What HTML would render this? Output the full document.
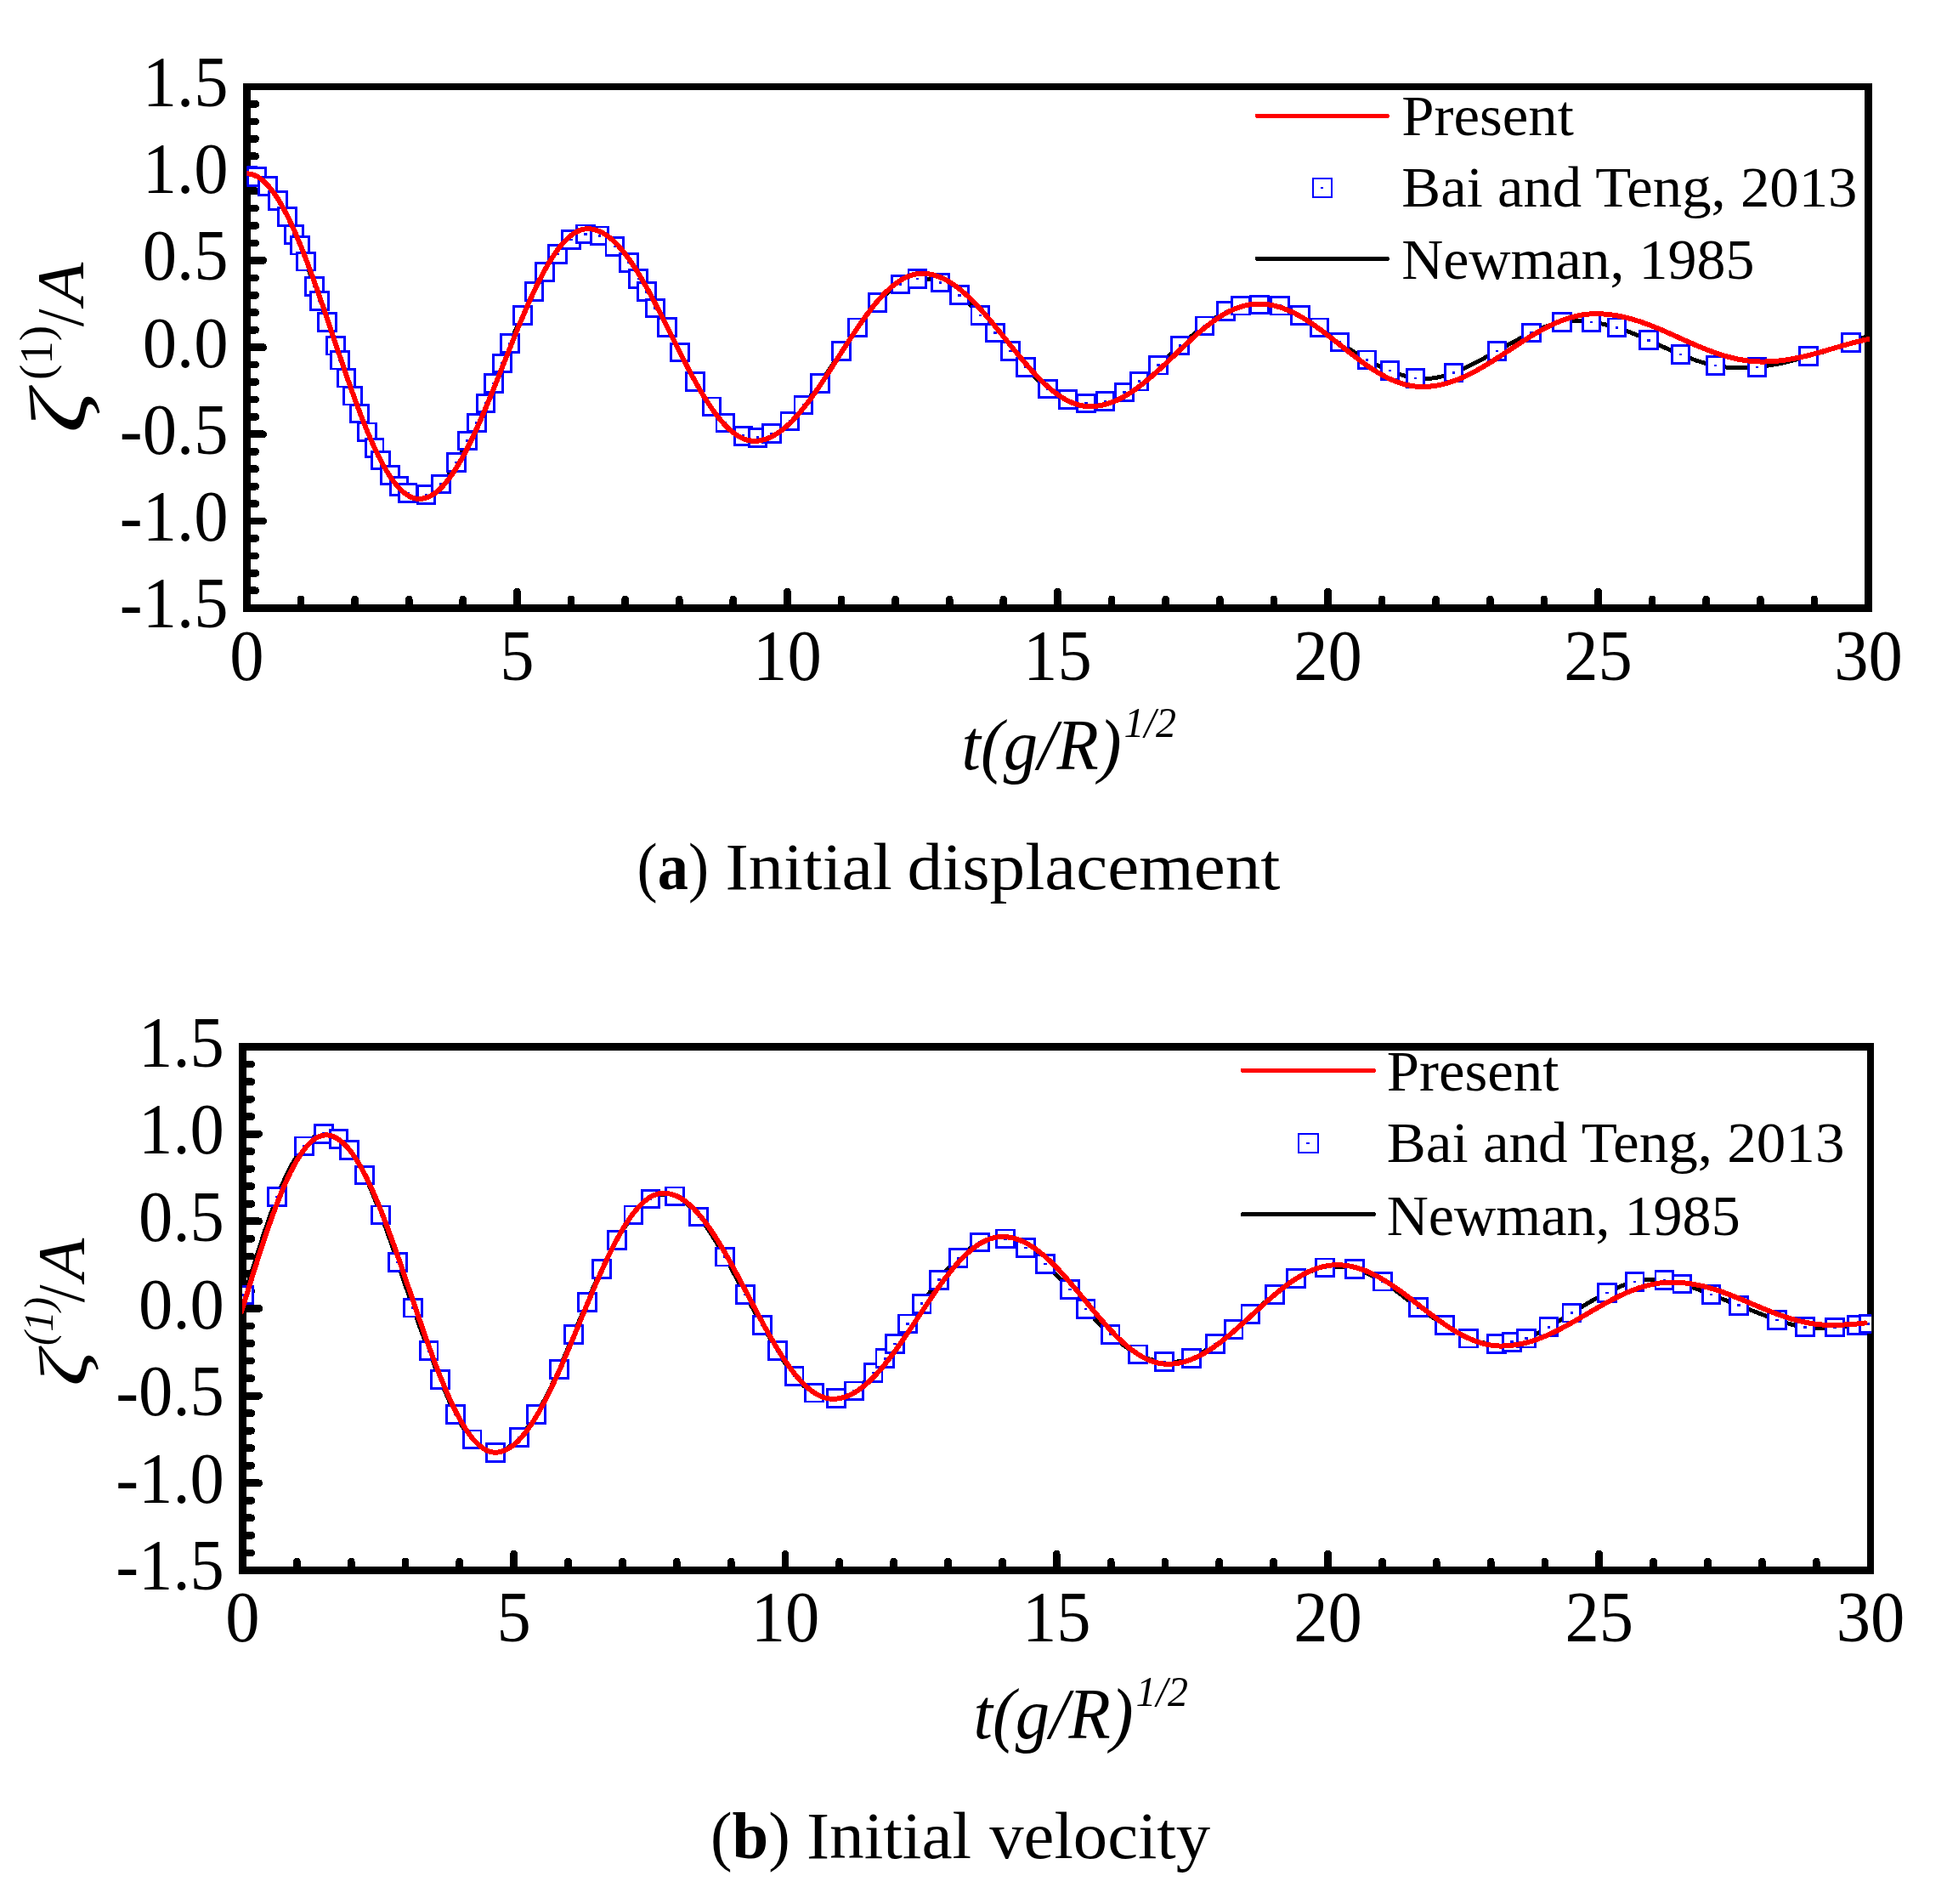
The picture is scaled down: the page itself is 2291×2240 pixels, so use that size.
<!DOCTYPE html>
<html><head><meta charset="utf-8"><title>Figure</title>
<style>html,body{margin:0;padding:0;background:#fff}svg{display:block}text{font-family:"Liberation Serif",serif}.tk{font-size:84px}.lg{font-size:68.3px}.it{font-style:italic}.cap{font-size:78px}</style></head><body>
<svg width="2291" height="2240" viewBox="0 0 2291 2240" shape-rendering="crispEdges">
<rect width="2291" height="2240" fill="#fff"/>
<g>
<path d="M285.90 97.95H2203.00V719.70H285.90Z M294.90 106.05V710.80H2194.00V106.05Z" fill="#000" fill-rule="evenodd"/>
<path d="M354.0 715.2 V704.9 M417.6 715.2 V704.9 M481.2 715.2 V704.9 M544.8 715.2 V704.9 M608.4 715.2 V696.0 M672.0 715.2 V704.9 M735.6 715.2 V704.9 M799.2 715.2 V704.9 M862.8 715.2 V704.9 M926.4 715.2 V696.0 M990.0 715.2 V704.9 M1053.6 715.2 V704.9 M1117.2 715.2 V704.9 M1180.8 715.2 V704.9 M1244.4 715.2 V696.0 M1308.1 715.2 V704.9 M1371.7 715.2 V704.9 M1435.3 715.2 V704.9 M1498.9 715.2 V704.9 M1562.5 715.2 V696.0 M1626.1 715.2 V704.9 M1689.7 715.2 V704.9 M1753.3 715.2 V704.9 M1816.9 715.2 V704.9 M1880.5 715.2 V696.0 M1944.1 715.2 V704.9 M2007.7 715.2 V704.9 M2071.3 715.2 V704.9 M2134.9 715.2 V704.9 M290.4 694.8 H300.8 M290.4 674.4 H300.8 M290.4 653.9 H300.8 M290.4 633.5 H300.8 M290.4 613.0 H309.7 M290.4 592.6 H300.8 M290.4 572.2 H300.8 M290.4 551.7 H300.8 M290.4 531.3 H300.8 M290.4 510.8 H309.7 M290.4 490.4 H300.8 M290.4 469.9 H300.8 M290.4 449.5 H300.8 M290.4 429.1 H300.8 M290.4 408.6 H309.7 M290.4 388.2 H300.8 M290.4 367.7 H300.8 M290.4 347.3 H300.8 M290.4 326.9 H300.8 M290.4 306.4 H309.7 M290.4 286.0 H300.8 M290.4 265.5 H300.8 M290.4 245.1 H300.8 M290.4 224.7 H300.8 M290.4 204.2 H309.7 M290.4 183.8 H300.8 M290.4 163.3 H300.8 M290.4 142.9 H300.8 M290.4 122.4 H300.8" fill="none" stroke="#000" stroke-width="8.7" stroke-linecap="round"/>
<clipPath id="clipA"><rect x="290.4" y="102.0" width="1909.6" height="613.2"/></clipPath>
<g clip-path="url(#clipA)">
<path d="M289.0 204.3 L291.0 204.2 L293.0 204.4 L295.0 204.8 L297.0 205.5 L299.0 206.3 L301.0 207.3 L303.0 208.4 L305.0 209.7 L307.0 211.1 L309.0 212.8 L311.0 214.6 L313.0 216.7 L315.0 219.0 L317.0 221.6 L319.0 224.4 L321.0 227.3 L323.0 230.2 L325.0 233.2 L327.0 236.1 L329.0 238.9 L331.0 241.8 L333.0 245.0 L335.0 248.6 L337.0 252.7 L339.0 257.6 L341.0 263.0 L343.0 268.5 L345.0 273.7 L347.0 278.1 L349.0 281.7 L351.0 285.2 L353.0 289.1 L355.0 293.8 L357.0 299.1 L359.0 304.8 L361.0 310.6 L363.0 316.4 L365.0 322.3 L367.0 328.1 L369.0 334.0 L371.0 340.0 L373.0 345.9 L375.0 351.7 L377.0 357.4 L379.0 362.8 L381.0 368.1 L383.0 373.4 L385.0 378.5 L387.0 383.7 L389.0 389.1 L391.0 394.6 L393.0 400.4 L395.0 406.7 L397.0 413.4 L399.0 420.2 L401.0 426.5 L403.0 432.2 L405.0 437.6 L407.0 443.0 L409.0 448.7 L411.0 454.6 L413.0 460.5 L415.0 466.3 L417.0 471.7 L419.0 476.9 L421.0 482.0 L423.0 487.0 L425.0 492.0 L427.0 497.0 L429.0 501.8 L431.0 506.6 L433.0 511.1 L435.0 515.4 L437.0 519.6 L439.0 523.7 L441.0 527.8 L443.0 531.9 L445.0 535.9 L447.0 539.8 L449.0 543.5 L451.0 546.9 L453.0 550.2 L455.0 553.3 L457.0 556.2 L459.0 559.0 L461.0 561.7 L463.0 564.3 L465.0 566.7 L467.0 569.0 L469.0 571.2 L471.0 573.2 L473.0 575.0 L475.0 576.6 L477.0 578.1 L479.0 579.4 L481.0 580.5 L483.0 581.5 L485.0 582.3 L487.0 582.9 L489.0 583.3 L491.0 583.6 L493.0 583.7 L495.0 583.6 L497.0 583.4 L499.0 583.0 L501.0 582.4 L503.0 581.6 L505.0 580.7 L507.0 579.6 L509.0 578.3 L511.0 576.9 L513.0 575.3 L515.0 573.6 L517.0 571.7 L519.0 569.6 L521.0 567.4 L523.0 565.0 L525.0 562.5 L527.0 559.8 L529.0 557.0 L531.0 554.0 L533.0 550.8 L535.0 547.5 L537.0 544.0 L539.0 540.3 L541.0 536.5 L543.0 532.6 L545.0 528.6 L547.0 524.6 L549.0 520.7 L551.0 516.7 L553.0 512.9 L555.0 509.1 L557.0 505.3 L559.0 501.4 L561.0 497.5 L563.0 493.5 L565.0 489.3 L567.0 485.1 L569.0 480.6 L571.0 475.9 L573.0 471.1 L575.0 466.0 L577.0 460.9 L579.0 455.9 L581.0 450.9 L583.0 446.1 L585.0 441.5 L587.0 436.9 L589.0 432.2 L591.0 427.4 L593.0 422.3 L595.0 417.1 L597.0 411.9 L599.0 406.7 L601.0 401.7 L603.0 396.9 L605.0 392.2 L607.0 387.7 L609.0 383.3 L611.0 379.0 L613.0 374.8 L615.0 370.6 L617.0 366.5 L619.0 362.4 L621.0 358.3 L623.0 354.3 L625.0 350.3 L627.0 346.3 L629.0 342.3 L631.0 338.3 L633.0 334.4 L635.0 330.5 L637.0 326.8 L639.0 323.2 L641.0 319.7 L643.0 316.5 L645.0 313.4 L647.0 310.5 L649.0 307.7 L651.0 305.0 L653.0 302.3 L655.0 299.8 L657.0 297.3 L659.0 294.8 L661.0 292.4 L663.0 290.1 L665.0 287.9 L667.0 285.9 L669.0 284.0 L671.0 282.3 L673.0 280.9 L675.0 279.6 L677.0 278.6 L679.0 277.7 L681.0 277.0 L683.0 276.4 L685.0 275.9 L687.0 275.6 L689.0 275.4 L691.0 275.2 L693.0 275.1 L695.0 275.2 L697.0 275.3 L699.0 275.6 L701.0 276.0 L703.0 276.5 L705.0 277.2 L707.0 278.1 L709.0 279.1 L711.0 280.2 L713.0 281.5 L715.0 282.9 L717.0 284.5 L719.0 286.1 L721.0 287.8 L723.0 289.6 L725.0 291.5 L727.0 293.5 L729.0 295.5 L731.0 297.7 L733.0 300.0 L735.0 302.5 L737.0 305.1 L739.0 308.0 L741.0 311.0 L743.0 314.2 L745.0 317.5 L747.0 320.9 L749.0 324.2 L751.0 327.5 L753.0 330.7 L755.0 333.7 L757.0 336.8 L759.0 340.1 L761.0 343.5 L763.0 347.2 L765.0 351.0 L767.0 355.0 L769.0 358.9 L771.0 362.6 L773.0 366.1 L775.0 369.4 L777.0 372.6 L779.0 375.7 L781.0 378.8 L783.0 382.0 L785.0 385.3 L787.0 388.8 L789.0 392.6 L791.0 396.4 L793.0 400.4 L795.0 404.4 L797.0 408.5 L799.0 412.7 L801.0 416.7 L803.0 420.8 L805.0 424.8 L807.0 428.7 L809.0 432.6 L811.0 436.4 L813.0 440.1 L815.0 443.7 L817.0 447.2 L819.0 450.7 L821.0 454.0 L823.0 457.2 L825.0 460.3 L827.0 463.4 L829.0 466.4 L831.0 469.3 L833.0 472.1 L835.0 474.9 L837.0 477.6 L839.0 480.3 L841.0 482.9 L843.0 485.5 L845.0 488.0 L847.0 490.4 L849.0 492.8 L851.0 495.0 L853.0 497.2 L855.0 499.2 L857.0 501.1 L859.0 502.9 L861.0 504.6 L863.0 506.2 L865.0 507.6 L867.0 508.9 L869.0 510.1 L871.0 511.2 L873.0 512.1 L875.0 512.9 L877.0 513.5 L879.0 514.1 L881.0 514.5 L883.0 514.8 L885.0 514.9 L887.0 515.0 L889.0 514.9 L891.0 514.8 L893.0 514.5 L895.0 514.1 L897.0 513.7 L899.0 513.2 L901.0 512.6 L903.0 511.9 L905.0 511.1 L907.0 510.3 L909.0 509.4 L911.0 508.5 L913.0 507.5 L915.0 506.4 L917.0 505.2 L919.0 504.0 L921.0 502.6 L923.0 501.1 L925.0 499.5 L927.0 497.8 L929.0 495.9 L931.0 493.9 L933.0 491.7 L935.0 489.4 L937.0 487.1 L939.0 484.6 L941.0 482.1 L943.0 479.6 L945.0 477.0 L947.0 474.4 L949.0 471.9 L951.0 469.3 L953.0 466.7 L955.0 464.1 L957.0 461.5 L959.0 458.8 L961.0 456.2 L963.0 453.4 L965.0 450.7 L967.0 447.8 L969.0 445.0 L971.0 442.1 L973.0 439.1 L975.0 436.2 L977.0 433.2 L979.0 430.1 L981.0 427.1 L983.0 424.1 L985.0 421.0 L987.0 417.9 L989.0 414.9 L991.0 411.8 L993.0 408.8 L995.0 405.8 L997.0 402.8 L999.0 399.8 L1001.0 396.8 L1003.0 393.9 L1005.0 391.0 L1007.0 388.1 L1009.0 385.3 L1011.0 382.5 L1013.0 379.7 L1015.0 377.0 L1017.0 374.4 L1019.0 371.8 L1021.0 369.2 L1023.0 366.8 L1025.0 364.3 L1027.0 362.0 L1029.0 359.7 L1031.0 357.5 L1033.0 355.4 L1035.0 353.3 L1037.0 351.4 L1039.0 349.5 L1041.0 347.6 L1043.0 345.9 L1045.0 344.2 L1047.0 342.7 L1049.0 341.2 L1051.0 339.7 L1053.0 338.4 L1055.0 337.1 L1057.0 335.9 L1059.0 334.8 L1061.0 333.7 L1063.0 332.8 L1065.0 331.9 L1067.0 331.0 L1069.0 330.3 L1071.0 329.7 L1073.0 329.1 L1075.0 328.6 L1077.0 328.2 L1079.0 327.9 L1081.0 327.7 L1083.0 327.6 L1085.0 327.6 L1087.0 327.6 L1089.0 327.8 L1091.0 328.0 L1093.0 328.3 L1095.0 328.7 L1097.0 329.2 L1099.0 329.7 L1101.0 330.4 L1103.0 331.1 L1105.0 331.9 L1107.0 332.8 L1109.0 333.7 L1111.0 334.8 L1113.0 335.9 L1115.0 337.1 L1117.0 338.3 L1119.0 339.6 L1121.0 341.0 L1123.0 342.4 L1125.0 343.9 L1127.0 345.5 L1129.0 347.1 L1131.0 348.8 L1133.0 350.5 L1135.0 352.3 L1137.0 354.1 L1139.0 356.0 L1141.0 358.0 L1143.0 359.9 L1145.0 362.0 L1147.0 364.1 L1149.0 366.2 L1151.0 368.4 L1153.0 370.6 L1155.0 372.8 L1157.0 375.1 L1159.0 377.4 L1161.0 379.8 L1163.0 382.2 L1165.0 384.6 L1167.0 387.0 L1169.0 389.4 L1171.0 391.8 L1173.0 394.3 L1175.0 396.7 L1177.0 399.1 L1179.0 401.5 L1181.0 403.9 L1183.0 406.3 L1185.0 408.6 L1187.0 410.9 L1189.0 413.1 L1191.0 415.3 L1193.0 417.5 L1195.0 419.6 L1197.0 421.7 L1199.0 423.7 L1201.0 425.8 L1203.0 427.9 L1205.0 429.9 L1207.0 432.0 L1209.0 434.1 L1211.0 436.2 L1213.0 438.4 L1215.0 440.5 L1217.0 442.6 L1219.0 444.6 L1221.0 446.7 L1223.0 448.7 L1225.0 450.6 L1227.0 452.5 L1229.0 454.3 L1231.0 456.0 L1233.0 457.6 L1235.0 459.1 L1237.0 460.5 L1239.0 461.8 L1241.0 463.1 L1243.0 464.2 L1245.0 465.3 L1247.0 466.3 L1249.0 467.2 L1251.0 468.0 L1253.0 468.9 L1255.0 469.6 L1257.0 470.3 L1259.0 471.0 L1261.0 471.6 L1263.0 472.1 L1265.0 472.6 L1267.0 473.1 L1269.0 473.5 L1271.0 473.9 L1273.0 474.2 L1275.0 474.4 L1277.0 474.6 L1279.0 474.7 L1281.0 474.7 L1283.0 474.7 L1285.0 474.6 L1287.0 474.5 L1289.0 474.3 L1291.0 474.0 L1293.0 473.7 L1295.0 473.3 L1297.0 472.8 L1299.0 472.3 L1301.0 471.7 L1303.0 471.1 L1305.0 470.4 L1307.0 469.6 L1309.0 468.8 L1311.0 468.0 L1313.0 467.0 L1315.0 466.0 L1317.0 465.0 L1319.0 463.8 L1321.0 462.7 L1323.0 461.4 L1325.0 460.1 L1327.0 458.8 L1329.0 457.4 L1331.0 455.9 L1333.0 454.5 L1335.0 452.9 L1337.0 451.4 L1339.0 449.8 L1341.0 448.2 L1343.0 446.6 L1345.0 445.0 L1347.0 443.3 L1349.0 441.7 L1351.0 440.0 L1353.0 438.3 L1355.0 436.6 L1357.0 434.9 L1359.0 433.1 L1361.0 431.4 L1363.0 429.6 L1365.0 427.8 L1367.0 426.0 L1369.0 424.2 L1371.0 422.4 L1373.0 420.5 L1375.0 418.7 L1377.0 416.9 L1379.0 415.1 L1381.0 413.3 L1383.0 411.5 L1385.0 409.7 L1387.0 407.9 L1389.0 406.2 L1391.0 404.4 L1393.0 402.8 L1395.0 401.1 L1397.0 399.4 L1399.0 397.8 L1401.0 396.2 L1403.0 394.6 L1405.0 393.0 L1407.0 391.4 L1409.0 389.9 L1411.0 388.3 L1413.0 386.8 L1415.0 385.2 L1417.0 383.7 L1419.0 382.2 L1421.0 380.7 L1423.0 379.2 L1425.0 377.7 L1427.0 376.2 L1429.0 374.8 L1431.0 373.4 L1433.0 372.0 L1435.0 370.7 L1437.0 369.5 L1439.0 368.2 L1441.0 367.1 L1443.0 366.0 L1445.0 365.0 L1447.0 364.0 L1449.0 363.1 L1451.0 362.3 L1453.0 361.6 L1455.0 360.9 L1457.0 360.3 L1459.0 359.8 L1461.0 359.5 L1463.0 359.2 L1465.0 358.9 L1467.0 358.8 L1469.0 358.6 L1471.0 358.6 L1473.0 358.5 L1475.0 358.5 L1477.0 358.5 L1479.0 358.5 L1481.0 358.5 L1483.0 358.5 L1485.0 358.4 L1487.0 358.4 L1489.0 358.3 L1491.0 358.3 L1493.0 358.3 L1495.0 358.3 L1497.0 358.4 L1499.0 358.6 L1501.0 358.8 L1503.0 359.1 L1505.0 359.4 L1507.0 359.9 L1509.0 360.5 L1511.0 361.2 L1513.0 362.0 L1515.0 362.9 L1517.0 363.8 L1519.0 364.8 L1521.0 365.9 L1523.0 367.0 L1525.0 368.1 L1527.0 369.3 L1529.0 370.5 L1531.0 371.7 L1533.0 372.9 L1535.0 374.1 L1537.0 375.3 L1539.0 376.6 L1541.0 377.8 L1543.0 379.1 L1545.0 380.4 L1547.0 381.7 L1549.0 383.0 L1551.0 384.3 L1553.0 385.7 L1555.0 387.0 L1557.0 388.4 L1559.0 389.9 L1561.0 391.3 L1563.0 392.7 L1565.0 394.2 L1567.0 395.6 L1569.0 397.1 L1571.0 398.5 L1573.0 400.0 L1575.0 401.4 L1577.0 402.9 L1579.0 404.3 L1581.0 405.7 L1583.0 407.1 L1585.0 408.5 L1587.0 409.9 L1589.0 411.3 L1591.0 412.6 L1593.0 414.0 L1595.0 415.3 L1597.0 416.6 L1599.0 417.8 L1601.0 419.1 L1603.0 420.3 L1605.0 421.5 L1607.0 422.6 L1609.0 423.7 L1611.0 424.8 L1613.0 425.9 L1615.0 426.9 L1617.0 427.9 L1619.0 428.8 L1621.0 429.8 L1623.0 430.7 L1625.0 431.6 L1627.0 432.5 L1629.0 433.3 L1631.0 434.2 L1633.0 435.0 L1635.0 435.8 L1637.0 436.6 L1639.0 437.4 L1641.0 438.1 L1643.0 438.9 L1645.0 439.6 L1647.0 440.3 L1649.0 441.0 L1651.0 441.6 L1653.0 442.2 L1655.0 442.7 L1657.0 443.3 L1659.0 443.7 L1661.0 444.1 L1663.0 444.5 L1665.0 444.8 L1667.0 445.1 L1669.0 445.3 L1671.0 445.4 L1673.0 445.5 L1675.0 445.6 L1677.0 445.6 L1679.0 445.5 L1681.0 445.4 L1683.0 445.2 L1685.0 445.0 L1687.0 444.7 L1689.0 444.4 L1691.0 444.1 L1693.0 443.7 L1695.0 443.2 L1697.0 442.8 L1699.0 442.2 L1701.0 441.7 L1703.0 441.1 L1705.0 440.5 L1707.0 439.8 L1709.0 439.1 L1711.0 438.4 L1713.0 437.6 L1715.0 436.8 L1717.0 436.0 L1719.0 435.1 L1721.0 434.2 L1723.0 433.3 L1725.0 432.4 L1727.0 431.4 L1729.0 430.4 L1731.0 429.4 L1733.0 428.4 L1735.0 427.4 L1737.0 426.4 L1739.0 425.3 L1741.0 424.2 L1743.0 423.1 L1745.0 422.1 L1747.0 421.0 L1749.0 419.8 L1751.0 418.7 L1753.0 417.6 L1755.0 416.5 L1757.0 415.4 L1759.0 414.2 L1761.0 413.1 L1763.0 412.0 L1765.0 410.9 L1767.0 409.8 L1769.0 408.7 L1771.0 407.6 L1773.0 406.5 L1775.0 405.4 L1777.0 404.3 L1779.0 403.2 L1781.0 402.2 L1783.0 401.1 L1785.0 400.1 L1787.0 399.0 L1789.0 398.0 L1791.0 397.0 L1793.0 396.0 L1795.0 395.0 L1797.0 394.0 L1799.0 393.0 L1801.0 392.0 L1803.0 391.1 L1805.0 390.1 L1807.0 389.2 L1809.0 388.3 L1811.0 387.5 L1813.0 386.6 L1815.0 385.8 L1817.0 385.0 L1819.0 384.2 L1821.0 383.5 L1823.0 382.8 L1825.0 382.1 L1827.0 381.5 L1829.0 380.9 L1831.0 380.3 L1833.0 379.8 L1835.0 379.4 L1837.0 379.0 L1839.0 378.7 L1841.0 378.4 L1843.0 378.1 L1845.0 377.9 L1847.0 377.8 L1849.0 377.7 L1851.0 377.6 L1853.0 377.6 L1855.0 377.6 L1857.0 377.6 L1859.0 377.7 L1861.0 377.8 L1863.0 378.0 L1865.0 378.1 L1867.0 378.3 L1869.0 378.6 L1871.0 378.8 L1873.0 379.1 L1875.0 379.3 L1877.0 379.6 L1879.0 380.0 L1881.0 380.3 L1883.0 380.7 L1885.0 381.0 L1887.0 381.4 L1889.0 381.9 L1891.0 382.3 L1893.0 382.8 L1895.0 383.3 L1897.0 383.8 L1899.0 384.3 L1901.0 384.9 L1903.0 385.5 L1905.0 386.2 L1907.0 386.8 L1909.0 387.5 L1911.0 388.2 L1913.0 388.9 L1915.0 389.7 L1917.0 390.5 L1919.0 391.2 L1921.0 392.1 L1923.0 392.9 L1925.0 393.7 L1927.0 394.6 L1929.0 395.4 L1931.0 396.3 L1933.0 397.2 L1935.0 398.1 L1937.0 399.0 L1939.0 399.9 L1941.0 400.8 L1943.0 401.7 L1945.0 402.6 L1947.0 403.5 L1949.0 404.5 L1951.0 405.4 L1953.0 406.3 L1955.0 407.2 L1957.0 408.1 L1959.0 409.0 L1961.0 409.9 L1963.0 410.8 L1965.0 411.7 L1967.0 412.6 L1969.0 413.5 L1971.0 414.3 L1973.0 415.2 L1975.0 416.0 L1977.0 416.9 L1979.0 417.7 L1981.0 418.5 L1983.0 419.3 L1985.0 420.1 L1987.0 420.8 L1989.0 421.6 L1991.0 422.3 L1993.0 423.0 L1995.0 423.7 L1997.0 424.4 L1999.0 425.0 L2001.0 425.7 L2003.0 426.3 L2005.0 426.9 L2007.0 427.4 L2009.0 427.9 L2011.0 428.5 L2013.0 428.9 L2015.0 429.4 L2017.0 429.8 L2019.0 430.2 L2021.0 430.6 L2023.0 430.9 L2025.0 431.2 L2027.0 431.5 L2029.0 431.8 L2031.0 432.0 L2033.0 432.2 L2035.0 432.3 L2037.0 432.5 L2039.0 432.6 L2041.0 432.7 L2043.0 432.8 L2045.0 432.8 L2047.0 432.8 L2049.0 432.8 L2051.0 432.8 L2053.0 432.8 L2055.0 432.7 L2057.0 432.6 L2059.0 432.5 L2061.0 432.4 L2063.0 432.2 L2065.0 432.0 L2067.0 431.8 L2069.0 431.6 L2071.0 431.4 L2073.0 431.2 L2075.0 430.9 L2077.0 430.6 L2079.0 430.4 L2081.0 430.0 L2083.0 429.7 L2085.0 429.4 L2087.0 429.0 L2089.0 428.7 L2091.0 428.3 L2093.0 427.9 L2095.0 427.5 L2097.0 427.1 L2099.0 426.6 L2101.0 426.2 L2103.0 425.7 L2105.0 425.3 L2107.0 424.8 L2109.0 424.3 L2111.0 423.8 L2113.0 423.3 L2115.0 422.8 L2117.0 422.2 L2119.0 421.7 L2121.0 421.2 L2123.0 420.6 L2125.0 420.1 L2127.0 419.5 L2129.0 418.9 L2131.0 418.3 L2133.0 417.7 L2135.0 417.2 L2137.0 416.6 L2139.0 416.0 L2141.0 415.3 L2143.0 414.7 L2145.0 414.1 L2147.0 413.5 L2149.0 412.8 L2151.0 412.2 L2153.0 411.5 L2155.0 410.9 L2157.0 410.2 L2159.0 409.5 L2161.0 408.9 L2163.0 408.2 L2165.0 407.5 L2167.0 406.8 L2169.0 406.1 L2171.0 405.4 L2173.0 404.7 L2175.0 403.9 L2177.0 403.2 L2179.0 402.5 L2181.0 401.7 L2183.0 401.0 L2185.0 400.2 L2187.0 399.4 L2189.0 398.7 L2191.0 397.9 L2193.0 397.1 L2195.0 396.4 L2197.0 395.6 L2199.0 394.8 L2201.0 394.0 L2203.0 393.3" fill="none" stroke="#000" stroke-width="5.0" stroke-linejoin="round"/>
<rect x="291.8" y="196.0" width="9.5" height="20.7" fill="#fff" stroke="#00f" stroke-width="2.9"/><rect x="289.2" y="205.0" width="3.6" height="2.6" fill="#00f"/>
<rect x="291.8" y="197.5" width="20.5" height="20.7" fill="#fff" stroke="#00f" stroke-width="2.9"/><rect x="300.2" y="206.5" width="3.6" height="2.6" fill="#00f"/>
<rect x="304.4" y="208.5" width="20.7" height="20.7" fill="#fff" stroke="#00f" stroke-width="2.9"/><rect x="313.0" y="217.5" width="3.6" height="2.6" fill="#00f"/>
<rect x="316.4" y="225.5" width="20.7" height="20.7" fill="#fff" stroke="#00f" stroke-width="2.9"/><rect x="325.0" y="234.5" width="3.6" height="2.6" fill="#00f"/>
<rect x="327.5" y="244.5" width="20.7" height="20.7" fill="#fff" stroke="#00f" stroke-width="2.9"/><rect x="336.1" y="253.5" width="3.6" height="2.6" fill="#00f"/>
<rect x="335.5" y="265.4" width="20.7" height="20.7" fill="#fff" stroke="#00f" stroke-width="2.9"/><rect x="344.1" y="274.5" width="3.6" height="2.6" fill="#00f"/>
<rect x="342.4" y="278.3" width="20.7" height="20.7" fill="#fff" stroke="#00f" stroke-width="2.9"/><rect x="351.0" y="287.4" width="3.6" height="2.6" fill="#00f"/>
<rect x="349.6" y="297.3" width="20.7" height="20.7" fill="#fff" stroke="#00f" stroke-width="2.9"/><rect x="358.2" y="306.4" width="3.6" height="2.6" fill="#00f"/>
<rect x="359.6" y="326.6" width="20.7" height="20.7" fill="#fff" stroke="#00f" stroke-width="2.9"/><rect x="368.2" y="335.7" width="3.6" height="2.6" fill="#00f"/>
<rect x="365.4" y="343.6" width="20.7" height="20.7" fill="#fff" stroke="#00f" stroke-width="2.9"/><rect x="374.0" y="352.7" width="3.6" height="2.6" fill="#00f"/>
<rect x="374.8" y="368.4" width="20.7" height="20.7" fill="#fff" stroke="#00f" stroke-width="2.9"/><rect x="383.3" y="377.5" width="3.6" height="2.6" fill="#00f"/>
<rect x="384.6" y="396.3" width="20.7" height="20.7" fill="#fff" stroke="#00f" stroke-width="2.9"/><rect x="393.2" y="405.4" width="3.6" height="2.6" fill="#00f"/>
<rect x="389.8" y="413.3" width="20.7" height="20.7" fill="#fff" stroke="#00f" stroke-width="2.9"/><rect x="398.3" y="422.4" width="3.6" height="2.6" fill="#00f"/>
<rect x="397.2" y="434.3" width="20.7" height="20.7" fill="#fff" stroke="#00f" stroke-width="2.9"/><rect x="405.8" y="443.4" width="3.6" height="2.6" fill="#00f"/>
<rect x="404.4" y="455.3" width="20.7" height="20.7" fill="#fff" stroke="#00f" stroke-width="2.9"/><rect x="413.0" y="464.4" width="3.6" height="2.6" fill="#00f"/>
<rect x="412.4" y="476.1" width="20.7" height="20.7" fill="#fff" stroke="#00f" stroke-width="2.9"/><rect x="421.0" y="485.2" width="3.6" height="2.6" fill="#00f"/>
<rect x="421.4" y="498.0" width="20.7" height="20.7" fill="#fff" stroke="#00f" stroke-width="2.9"/><rect x="430.0" y="507.1" width="3.6" height="2.6" fill="#00f"/>
<rect x="430.3" y="516.9" width="20.7" height="20.7" fill="#fff" stroke="#00f" stroke-width="2.9"/><rect x="438.9" y="525.9" width="3.6" height="2.6" fill="#00f"/>
<rect x="437.5" y="531.1" width="20.7" height="20.7" fill="#fff" stroke="#00f" stroke-width="2.9"/><rect x="446.1" y="540.2" width="3.6" height="2.6" fill="#00f"/>
<rect x="448.4" y="548.4" width="20.7" height="20.7" fill="#fff" stroke="#00f" stroke-width="2.9"/><rect x="457.0" y="557.4" width="3.6" height="2.6" fill="#00f"/>
<rect x="459.2" y="561.4" width="20.7" height="20.7" fill="#fff" stroke="#00f" stroke-width="2.9"/><rect x="467.8" y="570.5" width="3.6" height="2.6" fill="#00f"/>
<rect x="469.3" y="569.4" width="20.7" height="20.7" fill="#fff" stroke="#00f" stroke-width="2.9"/><rect x="477.9" y="578.5" width="3.6" height="2.6" fill="#00f"/>
<rect x="491.1" y="571.9" width="20.7" height="20.7" fill="#fff" stroke="#00f" stroke-width="2.9"/><rect x="499.7" y="580.9" width="3.6" height="2.6" fill="#00f"/>
<rect x="508.6" y="559.2" width="20.7" height="20.7" fill="#fff" stroke="#00f" stroke-width="2.9"/><rect x="517.2" y="568.3" width="3.6" height="2.6" fill="#00f"/>
<rect x="526.6" y="533.6" width="20.7" height="20.7" fill="#fff" stroke="#00f" stroke-width="2.9"/><rect x="535.2" y="542.7" width="3.6" height="2.6" fill="#00f"/>
<rect x="539.8" y="508.1" width="20.7" height="20.7" fill="#fff" stroke="#00f" stroke-width="2.9"/><rect x="548.3" y="517.2" width="3.6" height="2.6" fill="#00f"/>
<rect x="550.6" y="487.1" width="20.7" height="20.7" fill="#fff" stroke="#00f" stroke-width="2.9"/><rect x="559.2" y="496.2" width="3.6" height="2.6" fill="#00f"/>
<rect x="561.2" y="464.1" width="20.7" height="20.7" fill="#fff" stroke="#00f" stroke-width="2.9"/><rect x="569.8" y="473.2" width="3.6" height="2.6" fill="#00f"/>
<rect x="570.6" y="440.5" width="20.7" height="20.7" fill="#fff" stroke="#00f" stroke-width="2.9"/><rect x="579.2" y="449.6" width="3.6" height="2.6" fill="#00f"/>
<rect x="580.5" y="417.2" width="20.7" height="20.7" fill="#fff" stroke="#00f" stroke-width="2.9"/><rect x="589.1" y="426.3" width="3.6" height="2.6" fill="#00f"/>
<rect x="589.6" y="393.8" width="20.7" height="20.7" fill="#fff" stroke="#00f" stroke-width="2.9"/><rect x="598.2" y="402.9" width="3.6" height="2.6" fill="#00f"/>
<rect x="604.5" y="360.4" width="20.7" height="20.7" fill="#fff" stroke="#00f" stroke-width="2.9"/><rect x="613.1" y="369.5" width="3.6" height="2.6" fill="#00f"/>
<rect x="618.1" y="332.9" width="20.7" height="20.7" fill="#fff" stroke="#00f" stroke-width="2.9"/><rect x="626.7" y="342.0" width="3.6" height="2.6" fill="#00f"/>
<rect x="630.5" y="309.5" width="20.7" height="20.7" fill="#fff" stroke="#00f" stroke-width="2.9"/><rect x="639.1" y="318.6" width="3.6" height="2.6" fill="#00f"/>
<rect x="645.4" y="288.5" width="20.7" height="20.7" fill="#fff" stroke="#00f" stroke-width="2.9"/><rect x="653.9" y="297.6" width="3.6" height="2.6" fill="#00f"/>
<rect x="661.4" y="271.4" width="20.7" height="20.7" fill="#fff" stroke="#00f" stroke-width="2.9"/><rect x="669.9" y="280.5" width="3.6" height="2.6" fill="#00f"/>
<rect x="678.4" y="265.0" width="20.7" height="20.7" fill="#fff" stroke="#00f" stroke-width="2.9"/><rect x="686.9" y="274.1" width="3.6" height="2.6" fill="#00f"/>
<rect x="695.1" y="267.0" width="20.7" height="20.7" fill="#fff" stroke="#00f" stroke-width="2.9"/><rect x="703.7" y="276.1" width="3.6" height="2.6" fill="#00f"/>
<rect x="713.0" y="279.6" width="20.7" height="20.7" fill="#fff" stroke="#00f" stroke-width="2.9"/><rect x="721.6" y="288.7" width="3.6" height="2.6" fill="#00f"/>
<rect x="729.4" y="298.6" width="20.7" height="20.7" fill="#fff" stroke="#00f" stroke-width="2.9"/><rect x="737.9" y="307.7" width="3.6" height="2.6" fill="#00f"/>
<rect x="740.9" y="317.6" width="20.7" height="20.7" fill="#fff" stroke="#00f" stroke-width="2.9"/><rect x="749.5" y="326.7" width="3.6" height="2.6" fill="#00f"/>
<rect x="750.5" y="332.9" width="20.7" height="20.7" fill="#fff" stroke="#00f" stroke-width="2.9"/><rect x="759.1" y="342.0" width="3.6" height="2.6" fill="#00f"/>
<rect x="760.6" y="352.2" width="20.7" height="20.7" fill="#fff" stroke="#00f" stroke-width="2.9"/><rect x="769.2" y="361.3" width="3.6" height="2.6" fill="#00f"/>
<rect x="774.6" y="374.9" width="20.7" height="20.7" fill="#fff" stroke="#00f" stroke-width="2.9"/><rect x="783.2" y="384.0" width="3.6" height="2.6" fill="#00f"/>
<rect x="789.5" y="404.1" width="20.7" height="20.7" fill="#fff" stroke="#00f" stroke-width="2.9"/><rect x="798.1" y="413.2" width="3.6" height="2.6" fill="#00f"/>
<rect x="807.5" y="438.4" width="20.7" height="20.7" fill="#fff" stroke="#00f" stroke-width="2.9"/><rect x="816.1" y="447.5" width="3.6" height="2.6" fill="#00f"/>
<rect x="827.2" y="468.0" width="20.7" height="20.7" fill="#fff" stroke="#00f" stroke-width="2.9"/><rect x="835.8" y="477.1" width="3.6" height="2.6" fill="#00f"/>
<rect x="843.0" y="487.2" width="20.7" height="20.7" fill="#fff" stroke="#00f" stroke-width="2.9"/><rect x="851.6" y="496.3" width="3.6" height="2.6" fill="#00f"/>
<rect x="864.1" y="502.4" width="20.7" height="20.7" fill="#fff" stroke="#00f" stroke-width="2.9"/><rect x="872.7" y="511.4" width="3.6" height="2.6" fill="#00f"/>
<rect x="881.2" y="504.4" width="20.7" height="20.7" fill="#fff" stroke="#00f" stroke-width="2.9"/><rect x="889.8" y="513.4" width="3.6" height="2.6" fill="#00f"/>
<rect x="897.5" y="499.5" width="20.7" height="20.7" fill="#fff" stroke="#00f" stroke-width="2.9"/><rect x="906.1" y="508.6" width="3.6" height="2.6" fill="#00f"/>
<rect x="919.0" y="485.1" width="20.7" height="20.7" fill="#fff" stroke="#00f" stroke-width="2.9"/><rect x="927.6" y="494.2" width="3.6" height="2.6" fill="#00f"/>
<rect x="935.0" y="466.1" width="20.7" height="20.7" fill="#fff" stroke="#00f" stroke-width="2.9"/><rect x="943.6" y="475.2" width="3.6" height="2.6" fill="#00f"/>
<rect x="954.5" y="440.4" width="20.7" height="20.7" fill="#fff" stroke="#00f" stroke-width="2.9"/><rect x="963.1" y="449.5" width="3.6" height="2.6" fill="#00f"/>
<rect x="979.9" y="402.5" width="20.7" height="20.7" fill="#fff" stroke="#00f" stroke-width="2.9"/><rect x="988.5" y="411.6" width="3.6" height="2.6" fill="#00f"/>
<rect x="998.5" y="375.0" width="20.7" height="20.7" fill="#fff" stroke="#00f" stroke-width="2.9"/><rect x="1007.1" y="384.1" width="3.6" height="2.6" fill="#00f"/>
<rect x="1022.2" y="345.4" width="20.7" height="20.7" fill="#fff" stroke="#00f" stroke-width="2.9"/><rect x="1030.8" y="354.5" width="3.6" height="2.6" fill="#00f"/>
<rect x="1049.2" y="324.1" width="20.7" height="20.7" fill="#fff" stroke="#00f" stroke-width="2.9"/><rect x="1057.7" y="333.2" width="3.6" height="2.6" fill="#00f"/>
<rect x="1069.0" y="317.5" width="20.7" height="20.7" fill="#fff" stroke="#00f" stroke-width="2.9"/><rect x="1077.5" y="326.6" width="3.6" height="2.6" fill="#00f"/>
<rect x="1096.2" y="322.2" width="20.7" height="20.7" fill="#fff" stroke="#00f" stroke-width="2.9"/><rect x="1104.8" y="331.3" width="3.6" height="2.6" fill="#00f"/>
<rect x="1118.8" y="336.8" width="20.7" height="20.7" fill="#fff" stroke="#00f" stroke-width="2.9"/><rect x="1127.3" y="345.9" width="3.6" height="2.6" fill="#00f"/>
<rect x="1143.0" y="360.5" width="20.7" height="20.7" fill="#fff" stroke="#00f" stroke-width="2.9"/><rect x="1151.5" y="369.6" width="3.6" height="2.6" fill="#00f"/>
<rect x="1160.5" y="381.2" width="20.7" height="20.7" fill="#fff" stroke="#00f" stroke-width="2.9"/><rect x="1169.0" y="390.3" width="3.6" height="2.6" fill="#00f"/>
<rect x="1178.5" y="402.5" width="20.7" height="20.7" fill="#fff" stroke="#00f" stroke-width="2.9"/><rect x="1187.0" y="411.6" width="3.6" height="2.6" fill="#00f"/>
<rect x="1196.5" y="421.4" width="20.7" height="20.7" fill="#fff" stroke="#00f" stroke-width="2.9"/><rect x="1205.0" y="430.5" width="3.6" height="2.6" fill="#00f"/>
<rect x="1222.6" y="447.1" width="20.7" height="20.7" fill="#fff" stroke="#00f" stroke-width="2.9"/><rect x="1231.1" y="456.2" width="3.6" height="2.6" fill="#00f"/>
<rect x="1246.1" y="459.8" width="20.7" height="20.7" fill="#fff" stroke="#00f" stroke-width="2.9"/><rect x="1254.6" y="468.8" width="3.6" height="2.6" fill="#00f"/>
<rect x="1267.4" y="464.2" width="20.7" height="20.7" fill="#fff" stroke="#00f" stroke-width="2.9"/><rect x="1275.9" y="473.3" width="3.6" height="2.6" fill="#00f"/>
<rect x="1290.1" y="461.5" width="20.7" height="20.7" fill="#fff" stroke="#00f" stroke-width="2.9"/><rect x="1298.6" y="470.6" width="3.6" height="2.6" fill="#00f"/>
<rect x="1312.6" y="451.1" width="20.7" height="20.7" fill="#fff" stroke="#00f" stroke-width="2.9"/><rect x="1321.1" y="460.2" width="3.6" height="2.6" fill="#00f"/>
<rect x="1330.1" y="438.3" width="20.7" height="20.7" fill="#fff" stroke="#00f" stroke-width="2.9"/><rect x="1338.6" y="447.4" width="3.6" height="2.6" fill="#00f"/>
<rect x="1352.6" y="419.3" width="20.7" height="20.7" fill="#fff" stroke="#00f" stroke-width="2.9"/><rect x="1361.1" y="428.4" width="3.6" height="2.6" fill="#00f"/>
<rect x="1378.2" y="396.2" width="20.7" height="20.7" fill="#fff" stroke="#00f" stroke-width="2.9"/><rect x="1386.7" y="405.3" width="3.6" height="2.6" fill="#00f"/>
<rect x="1407.1" y="373.0" width="20.7" height="20.7" fill="#fff" stroke="#00f" stroke-width="2.9"/><rect x="1415.6" y="382.1" width="3.6" height="2.6" fill="#00f"/>
<rect x="1432.2" y="355.8" width="20.7" height="20.7" fill="#fff" stroke="#00f" stroke-width="2.9"/><rect x="1440.8" y="364.9" width="3.6" height="2.6" fill="#00f"/>
<rect x="1449.4" y="349.3" width="20.7" height="20.7" fill="#fff" stroke="#00f" stroke-width="2.9"/><rect x="1457.9" y="358.4" width="3.6" height="2.6" fill="#00f"/>
<rect x="1471.7" y="348.1" width="20.7" height="20.7" fill="#fff" stroke="#00f" stroke-width="2.9"/><rect x="1480.2" y="357.2" width="3.6" height="2.6" fill="#00f"/>
<rect x="1495.8" y="349.3" width="20.7" height="20.7" fill="#fff" stroke="#00f" stroke-width="2.9"/><rect x="1504.3" y="358.4" width="3.6" height="2.6" fill="#00f"/>
<rect x="1519.4" y="360.5" width="20.7" height="20.7" fill="#fff" stroke="#00f" stroke-width="2.9"/><rect x="1527.9" y="369.6" width="3.6" height="2.6" fill="#00f"/>
<rect x="1542.2" y="375.0" width="20.7" height="20.7" fill="#fff" stroke="#00f" stroke-width="2.9"/><rect x="1550.8" y="384.1" width="3.6" height="2.6" fill="#00f"/>
<rect x="1566.2" y="392.1" width="20.7" height="20.7" fill="#fff" stroke="#00f" stroke-width="2.9"/><rect x="1574.7" y="401.2" width="3.6" height="2.6" fill="#00f"/>
<rect x="1598.1" y="413.0" width="20.7" height="20.7" fill="#fff" stroke="#00f" stroke-width="2.9"/><rect x="1606.6" y="422.1" width="3.6" height="2.6" fill="#00f"/>
<rect x="1625.2" y="425.6" width="20.7" height="20.7" fill="#fff" stroke="#00f" stroke-width="2.9"/><rect x="1633.7" y="434.7" width="3.6" height="2.6" fill="#00f"/>
<rect x="1655.2" y="434.5" width="20.7" height="20.7" fill="#fff" stroke="#00f" stroke-width="2.9"/><rect x="1663.7" y="443.6" width="3.6" height="2.6" fill="#00f"/>
<rect x="1700.2" y="428.1" width="20.7" height="20.7" fill="#fff" stroke="#00f" stroke-width="2.9"/><rect x="1708.8" y="437.2" width="3.6" height="2.6" fill="#00f"/>
<rect x="1751.1" y="402.5" width="20.7" height="20.7" fill="#fff" stroke="#00f" stroke-width="2.9"/><rect x="1759.6" y="411.6" width="3.6" height="2.6" fill="#00f"/>
<rect x="1791.6" y="381.2" width="20.7" height="20.7" fill="#fff" stroke="#00f" stroke-width="2.9"/><rect x="1800.1" y="390.3" width="3.6" height="2.6" fill="#00f"/>
<rect x="1827.8" y="368.4" width="20.7" height="20.7" fill="#fff" stroke="#00f" stroke-width="2.9"/><rect x="1836.3" y="377.5" width="3.6" height="2.6" fill="#00f"/>
<rect x="1862.2" y="368.6" width="20.7" height="20.7" fill="#fff" stroke="#00f" stroke-width="2.9"/><rect x="1870.7" y="377.7" width="3.6" height="2.6" fill="#00f"/>
<rect x="1892.2" y="375.0" width="20.7" height="20.7" fill="#fff" stroke="#00f" stroke-width="2.9"/><rect x="1900.8" y="384.1" width="3.6" height="2.6" fill="#00f"/>
<rect x="1929.6" y="389.9" width="20.7" height="20.7" fill="#fff" stroke="#00f" stroke-width="2.9"/><rect x="1938.1" y="399.0" width="3.6" height="2.6" fill="#00f"/>
<rect x="1967.2" y="406.8" width="20.7" height="20.7" fill="#fff" stroke="#00f" stroke-width="2.9"/><rect x="1975.8" y="415.8" width="3.6" height="2.6" fill="#00f"/>
<rect x="2008.1" y="419.8" width="20.7" height="20.7" fill="#fff" stroke="#00f" stroke-width="2.9"/><rect x="2016.6" y="428.8" width="3.6" height="2.6" fill="#00f"/>
<rect x="2057.2" y="421.4" width="20.7" height="20.7" fill="#fff" stroke="#00f" stroke-width="2.9"/><rect x="2065.7" y="430.5" width="3.6" height="2.6" fill="#00f"/>
<rect x="2117.7" y="408.8" width="20.7" height="20.7" fill="#fff" stroke="#00f" stroke-width="2.9"/><rect x="2126.2" y="417.9" width="3.6" height="2.6" fill="#00f"/>
<rect x="2167.5" y="392.5" width="20.7" height="20.7" fill="#fff" stroke="#00f" stroke-width="2.9"/><rect x="2176.0" y="401.6" width="3.6" height="2.6" fill="#00f"/>
<path d="M289.0 204.5 L291.0 204.4 L293.0 204.5 L295.0 204.8 L297.0 205.3 L299.0 206.0 L301.0 206.9 L303.0 207.9 L305.0 209.1 L307.0 210.5 L309.0 212.1 L311.0 213.9 L313.0 215.8 L315.0 217.9 L317.0 220.2 L319.0 222.6 L321.0 225.2 L323.0 228.0 L325.0 230.9 L327.0 234.0 L329.0 237.3 L331.0 240.7 L333.0 244.2 L335.0 247.9 L337.0 251.8 L339.0 255.7 L341.0 259.8 L343.0 264.1 L345.0 268.4 L347.0 272.9 L349.0 277.5 L351.0 282.3 L353.0 287.1 L355.0 292.0 L357.0 297.0 L359.0 302.2 L361.0 307.4 L363.0 312.7 L365.0 318.1 L367.0 323.5 L369.0 329.0 L371.0 334.6 L373.0 340.3 L375.0 346.0 L377.0 351.7 L379.0 357.5 L381.0 363.3 L383.0 369.2 L385.0 375.1 L387.0 381.0 L389.0 386.9 L391.0 392.8 L393.0 398.8 L395.0 404.7 L397.0 410.6 L399.0 416.5 L401.0 422.4 L403.0 428.2 L405.0 434.1 L407.0 439.9 L409.0 445.6 L411.0 451.3 L413.0 456.9 L415.0 462.5 L417.0 468.1 L419.0 473.5 L421.0 478.9 L423.0 484.2 L425.0 489.4 L427.0 494.5 L429.0 499.5 L431.0 504.5 L433.0 509.3 L435.0 514.0 L437.0 518.6 L439.0 523.1 L441.0 527.4 L443.0 531.7 L445.0 535.8 L447.0 539.7 L449.0 543.6 L451.0 547.3 L453.0 550.8 L455.0 554.2 L457.0 557.4 L459.0 560.5 L461.0 563.4 L463.0 566.2 L465.0 568.8 L467.0 571.2 L469.0 573.5 L471.0 575.6 L473.0 577.5 L475.0 579.3 L477.0 580.8 L479.0 582.2 L481.0 583.4 L483.0 584.5 L485.0 585.3 L487.0 586.0 L489.0 586.5 L491.0 586.8 L493.0 586.9 L495.0 586.8 L497.0 586.6 L499.0 586.3 L501.0 585.7 L503.0 585.0 L505.0 584.2 L507.0 583.2 L509.0 582.0 L511.0 580.7 L513.0 579.2 L515.0 577.6 L517.0 575.9 L519.0 573.9 L521.0 571.9 L523.0 569.7 L525.0 567.3 L527.0 564.8 L529.0 562.2 L531.0 559.5 L533.0 556.6 L535.0 553.5 L537.0 550.4 L539.0 547.1 L541.0 543.7 L543.0 540.2 L545.0 536.6 L547.0 532.9 L549.0 529.1 L551.0 525.1 L553.0 521.1 L555.0 517.0 L557.0 512.8 L559.0 508.5 L561.0 504.1 L563.0 499.7 L565.0 495.1 L567.0 490.5 L569.0 485.9 L571.0 481.2 L573.0 476.4 L575.0 471.6 L577.0 466.8 L579.0 461.9 L581.0 456.9 L583.0 452.0 L585.0 447.0 L587.0 442.0 L589.0 437.0 L591.0 431.9 L593.0 426.9 L595.0 421.9 L597.0 416.9 L599.0 411.9 L601.0 406.9 L603.0 401.9 L605.0 397.0 L607.0 392.0 L609.0 387.2 L611.0 382.3 L613.0 377.5 L615.0 372.8 L617.0 368.1 L619.0 363.5 L621.0 358.9 L623.0 354.4 L625.0 350.0 L627.0 345.7 L629.0 341.4 L631.0 337.2 L633.0 333.2 L635.0 329.2 L637.0 325.3 L639.0 321.5 L641.0 317.8 L643.0 314.3 L645.0 310.8 L647.0 307.5 L649.0 304.3 L651.0 301.2 L653.0 298.2 L655.0 295.4 L657.0 292.7 L659.0 290.1 L661.0 287.7 L663.0 285.4 L665.0 283.3 L667.0 281.3 L669.0 279.4 L671.0 277.7 L673.0 276.2 L675.0 274.8 L677.0 273.5 L679.0 272.4 L681.0 271.5 L683.0 270.7 L685.0 270.1 L687.0 269.7 L689.0 269.4 L691.0 269.2 L693.0 269.2 L695.0 269.4 L697.0 269.6 L699.0 270.0 L701.0 270.6 L703.0 271.2 L705.0 272.0 L707.0 272.9 L709.0 273.9 L711.0 275.1 L713.0 276.3 L715.0 277.7 L717.0 279.3 L719.0 280.9 L721.0 282.6 L723.0 284.5 L725.0 286.5 L727.0 288.6 L729.0 290.8 L731.0 293.1 L733.0 295.5 L735.0 298.0 L737.0 300.6 L739.0 303.3 L741.0 306.1 L743.0 309.0 L745.0 311.9 L747.0 315.0 L749.0 318.1 L751.0 321.3 L753.0 324.6 L755.0 328.0 L757.0 331.4 L759.0 334.9 L761.0 338.5 L763.0 342.1 L765.0 345.8 L767.0 349.5 L769.0 353.2 L771.0 357.0 L773.0 360.9 L775.0 364.8 L777.0 368.7 L779.0 372.6 L781.0 376.5 L783.0 380.5 L785.0 384.5 L787.0 388.5 L789.0 392.5 L791.0 396.5 L793.0 400.5 L795.0 404.5 L797.0 408.5 L799.0 412.4 L801.0 416.4 L803.0 420.3 L805.0 424.2 L807.0 428.1 L809.0 431.9 L811.0 435.7 L813.0 439.5 L815.0 443.2 L817.0 446.8 L819.0 450.4 L821.0 454.0 L823.0 457.4 L825.0 460.9 L827.0 464.2 L829.0 467.5 L831.0 470.7 L833.0 473.8 L835.0 476.8 L837.0 479.8 L839.0 482.6 L841.0 485.4 L843.0 488.1 L845.0 490.7 L847.0 493.1 L849.0 495.5 L851.0 497.8 L853.0 500.0 L855.0 502.0 L857.0 504.0 L859.0 505.8 L861.0 507.5 L863.0 509.1 L865.0 510.6 L867.0 512.0 L869.0 513.2 L871.0 514.4 L873.0 515.3 L875.0 516.2 L877.0 517.0 L879.0 517.6 L881.0 518.1 L883.0 518.4 L885.0 518.7 L887.0 518.8 L889.0 518.8 L891.0 518.7 L893.0 518.5 L895.0 518.1 L897.0 517.7 L899.0 517.2 L901.0 516.6 L903.0 515.9 L905.0 515.1 L907.0 514.2 L909.0 513.2 L911.0 512.1 L913.0 510.9 L915.0 509.7 L917.0 508.3 L919.0 506.8 L921.0 505.3 L923.0 503.7 L925.0 502.0 L927.0 500.2 L929.0 498.3 L931.0 496.3 L933.0 494.3 L935.0 492.2 L937.0 490.0 L939.0 487.8 L941.0 485.5 L943.0 483.1 L945.0 480.6 L947.0 478.1 L949.0 475.6 L951.0 472.9 L953.0 470.3 L955.0 467.5 L957.0 464.8 L959.0 462.0 L961.0 459.1 L963.0 456.2 L965.0 453.3 L967.0 450.3 L969.0 447.3 L971.0 444.3 L973.0 441.2 L975.0 438.1 L977.0 435.1 L979.0 431.9 L981.0 428.8 L983.0 425.7 L985.0 422.6 L987.0 419.4 L989.0 416.3 L991.0 413.2 L993.0 410.1 L995.0 406.9 L997.0 403.8 L999.0 400.8 L1001.0 397.7 L1003.0 394.7 L1005.0 391.7 L1007.0 388.7 L1009.0 385.7 L1011.0 382.8 L1013.0 379.9 L1015.0 377.1 L1017.0 374.3 L1019.0 371.5 L1021.0 368.9 L1023.0 366.2 L1025.0 363.6 L1027.0 361.1 L1029.0 358.6 L1031.0 356.2 L1033.0 353.8 L1035.0 351.6 L1037.0 349.4 L1039.0 347.2 L1041.0 345.2 L1043.0 343.2 L1045.0 341.3 L1047.0 339.4 L1049.0 337.7 L1051.0 336.0 L1053.0 334.4 L1055.0 332.9 L1057.0 331.5 L1059.0 330.2 L1061.0 329.0 L1063.0 327.9 L1065.0 326.8 L1067.0 325.9 L1069.0 325.1 L1071.0 324.3 L1073.0 323.6 L1075.0 323.1 L1077.0 322.6 L1079.0 322.3 L1081.0 322.0 L1083.0 321.9 L1085.0 321.8 L1087.0 321.8 L1089.0 321.9 L1091.0 322.1 L1093.0 322.4 L1095.0 322.7 L1097.0 323.2 L1099.0 323.7 L1101.0 324.3 L1103.0 324.9 L1105.0 325.6 L1107.0 326.5 L1109.0 327.3 L1111.0 328.3 L1113.0 329.3 L1115.0 330.4 L1117.0 331.6 L1119.0 332.8 L1121.0 334.1 L1123.0 335.5 L1125.0 336.9 L1127.0 338.4 L1129.0 340.0 L1131.0 341.6 L1133.0 343.3 L1135.0 345.1 L1137.0 346.9 L1139.0 348.7 L1141.0 350.6 L1143.0 352.6 L1145.0 354.6 L1147.0 356.6 L1149.0 358.7 L1151.0 360.8 L1153.0 363.0 L1155.0 365.2 L1157.0 367.5 L1159.0 369.7 L1161.0 372.0 L1163.0 374.4 L1165.0 376.7 L1167.0 379.1 L1169.0 381.5 L1171.0 384.0 L1173.0 386.4 L1175.0 388.8 L1177.0 391.3 L1179.0 393.8 L1181.0 396.3 L1183.0 398.8 L1185.0 401.2 L1187.0 403.7 L1189.0 406.2 L1191.0 408.7 L1193.0 411.2 L1195.0 413.6 L1197.0 416.0 L1199.0 418.5 L1201.0 420.9 L1203.0 423.3 L1205.0 425.6 L1207.0 428.0 L1209.0 430.3 L1211.0 432.5 L1213.0 434.8 L1215.0 437.0 L1217.0 439.2 L1219.0 441.3 L1221.0 443.4 L1223.0 445.4 L1225.0 447.4 L1227.0 449.4 L1229.0 451.3 L1231.0 453.1 L1233.0 454.9 L1235.0 456.7 L1237.0 458.4 L1239.0 460.0 L1241.0 461.6 L1243.0 463.1 L1245.0 464.5 L1247.0 465.9 L1249.0 467.2 L1251.0 468.4 L1253.0 469.6 L1255.0 470.7 L1257.0 471.7 L1259.0 472.7 L1261.0 473.5 L1263.0 474.4 L1265.0 475.1 L1267.0 475.7 L1269.0 476.3 L1271.0 476.8 L1273.0 477.3 L1275.0 477.6 L1277.0 477.9 L1279.0 478.1 L1281.0 478.2 L1283.0 478.2 L1285.0 478.2 L1287.0 478.1 L1289.0 477.9 L1291.0 477.7 L1293.0 477.4 L1295.0 477.1 L1297.0 476.7 L1299.0 476.2 L1301.0 475.7 L1303.0 475.1 L1305.0 474.5 L1307.0 473.8 L1309.0 473.1 L1311.0 472.3 L1313.0 471.4 L1315.0 470.5 L1317.0 469.6 L1319.0 468.6 L1321.0 467.5 L1323.0 466.4 L1325.0 465.2 L1327.0 464.0 L1329.0 462.8 L1331.0 461.5 L1333.0 460.1 L1335.0 458.7 L1337.0 457.3 L1339.0 455.8 L1341.0 454.3 L1343.0 452.8 L1345.0 451.2 L1347.0 449.6 L1349.0 448.0 L1351.0 446.3 L1353.0 444.6 L1355.0 442.9 L1357.0 441.1 L1359.0 439.3 L1361.0 437.6 L1363.0 435.7 L1365.0 433.9 L1367.0 432.0 L1369.0 430.2 L1371.0 428.3 L1373.0 426.4 L1375.0 424.5 L1377.0 422.6 L1379.0 420.7 L1381.0 418.8 L1383.0 416.9 L1385.0 415.0 L1387.0 413.1 L1389.0 411.2 L1391.0 409.3 L1393.0 407.4 L1395.0 405.5 L1397.0 403.7 L1399.0 401.8 L1401.0 400.0 L1403.0 398.1 L1405.0 396.4 L1407.0 394.6 L1409.0 392.8 L1411.0 391.1 L1413.0 389.4 L1415.0 387.7 L1417.0 386.1 L1419.0 384.5 L1421.0 382.9 L1423.0 381.4 L1425.0 379.9 L1427.0 378.4 L1429.0 377.0 L1431.0 375.6 L1433.0 374.2 L1435.0 372.9 L1437.0 371.7 L1439.0 370.5 L1441.0 369.3 L1443.0 368.2 L1445.0 367.1 L1447.0 366.1 L1449.0 365.2 L1451.0 364.3 L1453.0 363.4 L1455.0 362.6 L1457.0 361.9 L1459.0 361.2 L1461.0 360.6 L1463.0 360.0 L1465.0 359.5 L1467.0 359.0 L1469.0 358.6 L1471.0 358.3 L1473.0 358.0 L1475.0 357.8 L1477.0 357.6 L1479.0 357.5 L1481.0 357.5 L1483.0 357.5 L1485.0 357.6 L1487.0 357.7 L1489.0 357.9 L1491.0 358.1 L1493.0 358.4 L1495.0 358.7 L1497.0 359.1 L1499.0 359.5 L1501.0 360.0 L1503.0 360.6 L1505.0 361.1 L1507.0 361.8 L1509.0 362.4 L1511.0 363.2 L1513.0 363.9 L1515.0 364.7 L1517.0 365.6 L1519.0 366.5 L1521.0 367.4 L1523.0 368.4 L1525.0 369.4 L1527.0 370.5 L1529.0 371.6 L1531.0 372.7 L1533.0 373.9 L1535.0 375.1 L1537.0 376.4 L1539.0 377.6 L1541.0 379.0 L1543.0 380.3 L1545.0 381.6 L1547.0 383.0 L1549.0 384.4 L1551.0 385.9 L1553.0 387.3 L1555.0 388.8 L1557.0 390.3 L1559.0 391.8 L1561.0 393.4 L1563.0 394.9 L1565.0 396.4 L1567.0 398.0 L1569.0 399.6 L1571.0 401.2 L1573.0 402.8 L1575.0 404.3 L1577.0 405.9 L1579.0 407.5 L1581.0 409.1 L1583.0 410.7 L1585.0 412.3 L1587.0 413.9 L1589.0 415.4 L1591.0 417.0 L1593.0 418.5 L1595.0 420.1 L1597.0 421.6 L1599.0 423.1 L1601.0 424.6 L1603.0 426.0 L1605.0 427.5 L1607.0 428.9 L1609.0 430.3 L1611.0 431.7 L1613.0 433.0 L1615.0 434.3 L1617.0 435.6 L1619.0 436.9 L1621.0 438.1 L1623.0 439.3 L1625.0 440.4 L1627.0 441.6 L1629.0 442.6 L1631.0 443.7 L1633.0 444.7 L1635.0 445.6 L1637.0 446.6 L1639.0 447.4 L1641.0 448.3 L1643.0 449.0 L1645.0 449.8 L1647.0 450.5 L1649.0 451.1 L1651.0 451.7 L1653.0 452.3 L1655.0 452.8 L1657.0 453.2 L1659.0 453.6 L1661.0 454.0 L1663.0 454.3 L1665.0 454.5 L1667.0 454.7 L1669.0 454.9 L1671.0 455.0 L1673.0 455.0 L1675.0 455.0 L1677.0 454.9 L1679.0 454.9 L1681.0 454.7 L1683.0 454.6 L1685.0 454.3 L1687.0 454.1 L1689.0 453.8 L1691.0 453.5 L1693.0 453.1 L1695.0 452.7 L1697.0 452.3 L1699.0 451.8 L1701.0 451.2 L1703.0 450.7 L1705.0 450.1 L1707.0 449.5 L1709.0 448.8 L1711.0 448.1 L1713.0 447.4 L1715.0 446.6 L1717.0 445.8 L1719.0 445.0 L1721.0 444.1 L1723.0 443.2 L1725.0 442.3 L1727.0 441.3 L1729.0 440.4 L1731.0 439.3 L1733.0 438.3 L1735.0 437.3 L1737.0 436.2 L1739.0 435.1 L1741.0 433.9 L1743.0 432.8 L1745.0 431.6 L1747.0 430.5 L1749.0 429.3 L1751.0 428.0 L1753.0 426.8 L1755.0 425.6 L1757.0 424.3 L1759.0 423.0 L1761.0 421.7 L1763.0 420.5 L1765.0 419.2 L1767.0 417.9 L1769.0 416.5 L1771.0 415.2 L1773.0 413.9 L1775.0 412.6 L1777.0 411.3 L1779.0 410.0 L1781.0 408.6 L1783.0 407.3 L1785.0 406.0 L1787.0 404.7 L1789.0 403.4 L1791.0 402.1 L1793.0 400.9 L1795.0 399.6 L1797.0 398.3 L1799.0 397.1 L1801.0 395.9 L1803.0 394.6 L1805.0 393.4 L1807.0 392.3 L1809.0 391.1 L1811.0 390.0 L1813.0 388.8 L1815.0 387.8 L1817.0 386.7 L1819.0 385.6 L1821.0 384.6 L1823.0 383.6 L1825.0 382.6 L1827.0 381.7 L1829.0 380.8 L1831.0 379.9 L1833.0 379.0 L1835.0 378.2 L1837.0 377.4 L1839.0 376.6 L1841.0 375.9 L1843.0 375.2 L1845.0 374.6 L1847.0 374.0 L1849.0 373.4 L1851.0 372.8 L1853.0 372.3 L1855.0 371.8 L1857.0 371.4 L1859.0 371.0 L1861.0 370.6 L1863.0 370.3 L1865.0 370.0 L1867.0 369.8 L1869.0 369.6 L1871.0 369.4 L1873.0 369.3 L1875.0 369.2 L1877.0 369.2 L1879.0 369.2 L1881.0 369.2 L1883.0 369.3 L1885.0 369.4 L1887.0 369.5 L1889.0 369.6 L1891.0 369.8 L1893.0 370.0 L1895.0 370.3 L1897.0 370.5 L1899.0 370.8 L1901.0 371.1 L1903.0 371.4 L1905.0 371.8 L1907.0 372.2 L1909.0 372.6 L1911.0 373.1 L1913.0 373.5 L1915.0 374.0 L1917.0 374.6 L1919.0 375.1 L1921.0 375.7 L1923.0 376.2 L1925.0 376.9 L1927.0 377.5 L1929.0 378.1 L1931.0 378.8 L1933.0 379.5 L1935.0 380.2 L1937.0 380.9 L1939.0 381.7 L1941.0 382.4 L1943.0 383.2 L1945.0 384.0 L1947.0 384.8 L1949.0 385.6 L1951.0 386.4 L1953.0 387.3 L1955.0 388.1 L1957.0 389.0 L1959.0 389.8 L1961.0 390.7 L1963.0 391.6 L1965.0 392.5 L1967.0 393.4 L1969.0 394.3 L1971.0 395.2 L1973.0 396.1 L1975.0 397.0 L1977.0 397.9 L1979.0 398.8 L1981.0 399.7 L1983.0 400.6 L1985.0 401.5 L1987.0 402.4 L1989.0 403.2 L1991.0 404.1 L1993.0 405.0 L1995.0 405.9 L1997.0 406.7 L1999.0 407.6 L2001.0 408.4 L2003.0 409.2 L2005.0 410.0 L2007.0 410.8 L2009.0 411.6 L2011.0 412.4 L2013.0 413.1 L2015.0 413.9 L2017.0 414.6 L2019.0 415.3 L2021.0 416.0 L2023.0 416.7 L2025.0 417.3 L2027.0 417.9 L2029.0 418.5 L2031.0 419.1 L2033.0 419.7 L2035.0 420.2 L2037.0 420.7 L2039.0 421.2 L2041.0 421.7 L2043.0 422.1 L2045.0 422.6 L2047.0 422.9 L2049.0 423.3 L2051.0 423.6 L2053.0 423.9 L2055.0 424.2 L2057.0 424.5 L2059.0 424.7 L2061.0 424.9 L2063.0 425.1 L2065.0 425.2 L2067.0 425.3 L2069.0 425.4 L2071.0 425.5 L2073.0 425.5 L2075.0 425.5 L2077.0 425.5 L2079.0 425.4 L2081.0 425.4 L2083.0 425.3 L2085.0 425.2 L2087.0 425.0 L2089.0 424.9 L2091.0 424.7 L2093.0 424.5 L2095.0 424.3 L2097.0 424.0 L2099.0 423.8 L2101.0 423.5 L2103.0 423.2 L2105.0 422.9 L2107.0 422.5 L2109.0 422.2 L2111.0 421.8 L2113.0 421.4 L2115.0 421.0 L2117.0 420.6 L2119.0 420.2 L2121.0 419.7 L2123.0 419.3 L2125.0 418.8 L2127.0 418.3 L2129.0 417.8 L2131.0 417.3 L2133.0 416.8 L2135.0 416.2 L2137.0 415.7 L2139.0 415.1 L2141.0 414.6 L2143.0 414.0 L2145.0 413.4 L2147.0 412.9 L2149.0 412.3 L2151.0 411.7 L2153.0 411.1 L2155.0 410.5 L2157.0 409.9 L2159.0 409.4 L2161.0 408.8 L2163.0 408.2 L2165.0 407.6 L2167.0 407.0 L2169.0 406.4 L2171.0 405.9 L2173.0 405.3 L2175.0 404.8 L2177.0 404.2 L2179.0 403.7 L2181.0 403.1 L2183.0 402.6 L2185.0 402.1 L2187.0 401.6 L2189.0 401.1 L2191.0 400.6 L2193.0 400.1 L2195.0 399.7 L2197.0 399.3 L2199.0 398.8 L2201.0 398.4 L2203.0 398.0" fill="none" stroke="#f00" stroke-width="6.0" stroke-linejoin="round" stroke-linecap="round"/>
</g>
<text transform="translate(268.5 125.0) scale(0.96 1)" text-anchor="end" class="tk">1.5</text>
<text transform="translate(268.5 227.2) scale(0.96 1)" text-anchor="end" class="tk">1.0</text>
<text transform="translate(268.5 329.4) scale(0.96 1)" text-anchor="end" class="tk">0.5</text>
<text transform="translate(268.5 431.6) scale(0.96 1)" text-anchor="end" class="tk">0.0</text>
<text transform="translate(268.5 533.8) scale(0.96 1)" text-anchor="end" class="tk">-0.5</text>
<text transform="translate(268.5 636.0) scale(0.96 1)" text-anchor="end" class="tk">-1.0</text>
<text transform="translate(268.5 738.2) scale(0.96 1)" text-anchor="end" class="tk">-1.5</text>
<text transform="translate(290.4 799.6) scale(0.96 1)" text-anchor="middle" class="tk">0</text>
<text transform="translate(608.4 799.6) scale(0.96 1)" text-anchor="middle" class="tk">5</text>
<text transform="translate(926.4 799.6) scale(0.96 1)" text-anchor="middle" class="tk">10</text>
<text transform="translate(1244.4 799.6) scale(0.96 1)" text-anchor="middle" class="tk">15</text>
<text transform="translate(1562.5 799.6) scale(0.96 1)" text-anchor="middle" class="tk">20</text>
<text transform="translate(1880.5 799.6) scale(0.96 1)" text-anchor="middle" class="tk">25</text>
<text transform="translate(2198.5 799.6) scale(0.96 1)" text-anchor="middle" class="tk">30</text>
</g>
<g>
<path d="M281.00 1227.10H2205.05V1851.85H281.00Z M289.80 1235.90V1842.95H2197.05V1235.90Z" fill="#000" fill-rule="evenodd"/>
<path d="M349.3 1847.4 V1837.0 M413.1 1847.4 V1837.0 M477.0 1847.4 V1837.0 M540.8 1847.4 V1837.0 M604.7 1847.4 V1828.1 M668.5 1847.4 V1837.0 M732.4 1847.4 V1837.0 M796.2 1847.4 V1837.0 M860.1 1847.4 V1837.0 M924.0 1847.4 V1828.1 M987.8 1847.4 V1837.0 M1051.7 1847.4 V1837.0 M1115.5 1847.4 V1837.0 M1179.4 1847.4 V1837.0 M1243.2 1847.4 V1828.1 M1307.1 1847.4 V1837.0 M1370.9 1847.4 V1837.0 M1434.8 1847.4 V1837.0 M1498.6 1847.4 V1837.0 M1562.5 1847.4 V1828.1 M1626.4 1847.4 V1837.0 M1690.2 1847.4 V1837.0 M1754.1 1847.4 V1837.0 M1817.9 1847.4 V1837.0 M1881.8 1847.4 V1828.1 M1945.6 1847.4 V1837.0 M2009.5 1847.4 V1837.0 M2073.3 1847.4 V1837.0 M2137.2 1847.4 V1837.0 M285.4 1826.9 H295.8 M285.4 1806.3 H295.8 M285.4 1785.8 H295.8 M285.4 1765.3 H295.8 M285.4 1744.8 H304.7 M285.4 1724.2 H295.8 M285.4 1703.7 H295.8 M285.4 1683.2 H295.8 M285.4 1662.6 H295.8 M285.4 1642.1 H304.7 M285.4 1621.6 H295.8 M285.4 1601.0 H295.8 M285.4 1580.5 H295.8 M285.4 1560.0 H295.8 M285.4 1539.5 H304.7 M285.4 1518.9 H295.8 M285.4 1498.4 H295.8 M285.4 1477.9 H295.8 M285.4 1457.3 H295.8 M285.4 1436.8 H304.7 M285.4 1416.3 H295.8 M285.4 1395.7 H295.8 M285.4 1375.2 H295.8 M285.4 1354.7 H295.8 M285.4 1334.2 H304.7 M285.4 1313.6 H295.8 M285.4 1293.1 H295.8 M285.4 1272.6 H295.8 M285.4 1252.0 H295.8" fill="none" stroke="#000" stroke-width="8.8" stroke-linecap="round"/>
<clipPath id="clipB"><rect x="285.0" y="1231.5" width="1917.1" height="615.9"/></clipPath>
<g clip-path="url(#clipB)">
<path d="M284.0 1536.6 L286.0 1530.0 L288.0 1523.4 L290.0 1516.8 L292.0 1510.2 L294.0 1503.6 L296.0 1497.1 L298.0 1490.6 L300.0 1484.1 L302.0 1477.8 L304.0 1471.4 L306.0 1465.2 L308.0 1459.0 L310.0 1452.9 L312.0 1446.9 L314.0 1441.0 L316.0 1435.2 L318.0 1429.5 L320.0 1424.0 L322.0 1418.6 L324.0 1413.3 L326.0 1408.2 L328.0 1403.2 L330.0 1398.3 L332.0 1393.7 L334.0 1389.2 L336.0 1384.8 L338.0 1380.7 L340.0 1376.6 L342.0 1372.8 L344.0 1369.1 L346.0 1365.6 L348.0 1362.3 L350.0 1359.1 L352.0 1356.1 L354.0 1353.3 L356.0 1350.7 L358.0 1348.3 L360.0 1346.0 L362.0 1344.0 L364.0 1342.1 L366.0 1340.4 L368.0 1338.9 L370.0 1337.5 L372.0 1336.4 L374.0 1335.5 L376.0 1334.7 L378.0 1334.2 L380.0 1333.8 L382.0 1333.6 L384.0 1333.7 L386.0 1333.9 L388.0 1334.3 L390.0 1334.9 L392.0 1335.7 L394.0 1336.7 L396.0 1337.9 L398.0 1339.3 L400.0 1340.9 L402.0 1342.7 L404.0 1344.7 L406.0 1346.8 L408.0 1349.2 L410.0 1351.6 L412.0 1354.3 L414.0 1357.1 L416.0 1360.0 L418.0 1363.1 L420.0 1366.4 L422.0 1369.8 L424.0 1373.4 L426.0 1377.1 L428.0 1381.1 L430.0 1385.2 L432.0 1389.5 L434.0 1393.9 L436.0 1398.5 L438.0 1403.2 L440.0 1408.1 L442.0 1413.0 L444.0 1418.1 L446.0 1423.3 L448.0 1428.6 L450.0 1434.0 L452.0 1439.4 L454.0 1444.9 L456.0 1450.5 L458.0 1456.1 L460.0 1461.9 L462.0 1467.6 L464.0 1473.4 L466.0 1479.3 L468.0 1485.2 L470.0 1491.1 L472.0 1497.1 L474.0 1503.1 L476.0 1509.1 L478.0 1515.1 L480.0 1521.0 L482.0 1526.9 L484.0 1532.8 L486.0 1538.6 L488.0 1544.3 L490.0 1550.0 L492.0 1555.6 L494.0 1561.1 L496.0 1566.6 L498.0 1572.0 L500.0 1577.3 L502.0 1582.6 L504.0 1587.8 L506.0 1592.9 L508.0 1598.0 L510.0 1603.0 L512.0 1608.0 L514.0 1613.0 L516.0 1617.9 L518.0 1622.9 L520.0 1627.8 L522.0 1632.7 L524.0 1637.5 L526.0 1642.3 L528.0 1646.9 L530.0 1651.5 L532.0 1655.9 L534.0 1660.1 L536.0 1664.1 L538.0 1667.9 L540.0 1671.5 L542.0 1674.9 L544.0 1678.1 L546.0 1681.2 L548.0 1684.0 L550.0 1686.7 L552.0 1689.2 L554.0 1691.6 L556.0 1693.8 L558.0 1695.9 L560.0 1697.9 L562.0 1699.7 L564.0 1701.3 L566.0 1702.8 L568.0 1704.2 L570.0 1705.4 L572.0 1706.4 L574.0 1707.2 L576.0 1707.9 L578.0 1708.3 L580.0 1708.6 L582.0 1708.7 L584.0 1708.6 L586.0 1708.3 L588.0 1707.9 L590.0 1707.2 L592.0 1706.4 L594.0 1705.4 L596.0 1704.2 L598.0 1702.9 L600.0 1701.5 L602.0 1699.9 L604.0 1698.2 L606.0 1696.3 L608.0 1694.3 L610.0 1692.3 L612.0 1690.1 L614.0 1687.8 L616.0 1685.4 L618.0 1682.9 L620.0 1680.3 L622.0 1677.6 L624.0 1674.8 L626.0 1671.8 L628.0 1668.8 L630.0 1665.6 L632.0 1662.3 L634.0 1659.0 L636.0 1655.5 L638.0 1651.8 L640.0 1648.1 L642.0 1644.3 L644.0 1640.4 L646.0 1636.4 L648.0 1632.2 L650.0 1628.0 L652.0 1623.7 L654.0 1619.4 L656.0 1614.9 L658.0 1610.3 L660.0 1605.7 L662.0 1601.0 L664.0 1596.3 L666.0 1591.5 L668.0 1586.7 L670.0 1581.9 L672.0 1577.0 L674.0 1572.2 L676.0 1567.3 L678.0 1562.5 L680.0 1557.8 L682.0 1553.0 L684.0 1548.2 L686.0 1543.4 L688.0 1538.7 L690.0 1533.9 L692.0 1529.2 L694.0 1524.4 L696.0 1519.7 L698.0 1515.0 L700.0 1510.4 L702.0 1505.8 L704.0 1501.4 L706.0 1497.0 L708.0 1492.7 L710.0 1488.6 L712.0 1484.5 L714.0 1480.6 L716.0 1476.8 L718.0 1473.1 L720.0 1469.4 L722.0 1465.9 L724.0 1462.4 L726.0 1458.9 L728.0 1455.5 L730.0 1452.2 L732.0 1448.9 L734.0 1445.8 L736.0 1442.6 L738.0 1439.6 L740.0 1436.7 L742.0 1433.9 L744.0 1431.2 L746.0 1428.6 L748.0 1426.2 L750.0 1423.9 L752.0 1421.7 L754.0 1419.7 L756.0 1417.8 L758.0 1416.0 L760.0 1414.3 L762.0 1412.8 L764.0 1411.4 L766.0 1410.2 L768.0 1409.1 L770.0 1408.1 L772.0 1407.3 L774.0 1406.6 L776.0 1406.0 L778.0 1405.6 L780.0 1405.4 L782.0 1405.2 L784.0 1405.2 L786.0 1405.4 L788.0 1405.7 L790.0 1406.1 L792.0 1406.7 L794.0 1407.4 L796.0 1408.3 L798.0 1409.3 L800.0 1410.4 L802.0 1411.7 L804.0 1413.1 L806.0 1414.7 L808.0 1416.3 L810.0 1418.1 L812.0 1420.0 L814.0 1422.0 L816.0 1424.2 L818.0 1426.4 L820.0 1428.7 L822.0 1431.1 L824.0 1433.6 L826.0 1436.2 L828.0 1438.9 L830.0 1441.7 L832.0 1444.6 L834.0 1447.5 L836.0 1450.5 L838.0 1453.6 L840.0 1456.8 L842.0 1460.0 L844.0 1463.3 L846.0 1466.6 L848.0 1470.0 L850.0 1473.5 L852.0 1477.0 L854.0 1480.6 L856.0 1484.2 L858.0 1487.8 L860.0 1491.5 L862.0 1495.2 L864.0 1498.9 L866.0 1502.7 L868.0 1506.4 L870.0 1510.2 L872.0 1514.0 L874.0 1517.7 L876.0 1521.4 L878.0 1525.1 L880.0 1528.8 L882.0 1532.5 L884.0 1536.1 L886.0 1539.7 L888.0 1543.3 L890.0 1546.8 L892.0 1550.4 L894.0 1553.9 L896.0 1557.3 L898.0 1560.8 L900.0 1564.2 L902.0 1567.6 L904.0 1571.0 L906.0 1574.3 L908.0 1577.7 L910.0 1581.0 L912.0 1584.3 L914.0 1587.6 L916.0 1591.0 L918.0 1594.3 L920.0 1597.5 L922.0 1600.8 L924.0 1603.9 L926.0 1607.0 L928.0 1610.0 L930.0 1612.9 L932.0 1615.6 L934.0 1618.2 L936.0 1620.7 L938.0 1623.0 L940.0 1625.1 L942.0 1627.1 L944.0 1628.9 L946.0 1630.6 L948.0 1632.2 L950.0 1633.7 L952.0 1635.1 L954.0 1636.4 L956.0 1637.6 L958.0 1638.7 L960.0 1639.8 L962.0 1640.7 L964.0 1641.7 L966.0 1642.5 L968.0 1643.2 L970.0 1643.8 L972.0 1644.4 L974.0 1644.8 L976.0 1645.1 L978.0 1645.4 L980.0 1645.5 L982.0 1645.4 L984.0 1645.3 L986.0 1645.0 L988.0 1644.6 L990.0 1644.1 L992.0 1643.4 L994.0 1642.6 L996.0 1641.7 L998.0 1640.7 L1000.0 1639.6 L1002.0 1638.4 L1004.0 1637.0 L1006.0 1635.6 L1008.0 1634.1 L1010.0 1632.4 L1012.0 1630.7 L1014.0 1628.9 L1016.0 1627.1 L1018.0 1625.2 L1020.0 1623.2 L1022.0 1621.1 L1024.0 1619.0 L1026.0 1616.9 L1028.0 1614.7 L1030.0 1612.4 L1032.0 1610.1 L1034.0 1607.8 L1036.0 1605.3 L1038.0 1602.8 L1040.0 1600.1 L1042.0 1597.3 L1044.0 1594.4 L1046.0 1591.4 L1048.0 1588.3 L1050.0 1585.1 L1052.0 1581.9 L1054.0 1578.7 L1056.0 1575.5 L1058.0 1572.3 L1060.0 1569.2 L1062.0 1566.0 L1064.0 1563.0 L1066.0 1559.9 L1068.0 1557.0 L1070.0 1554.1 L1072.0 1551.2 L1074.0 1548.4 L1076.0 1545.6 L1078.0 1542.8 L1080.0 1540.1 L1082.0 1537.3 L1084.0 1534.5 L1086.0 1531.7 L1088.0 1528.9 L1090.0 1526.1 L1092.0 1523.2 L1094.0 1520.4 L1096.0 1517.5 L1098.0 1514.7 L1100.0 1512.0 L1102.0 1509.3 L1104.0 1506.6 L1106.0 1504.0 L1108.0 1501.5 L1110.0 1499.1 L1112.0 1496.7 L1114.0 1494.4 L1116.0 1492.2 L1118.0 1490.0 L1120.0 1487.9 L1122.0 1485.8 L1124.0 1483.8 L1126.0 1481.8 L1128.0 1479.9 L1130.0 1478.1 L1132.0 1476.3 L1134.0 1474.5 L1136.0 1472.8 L1138.0 1471.2 L1140.0 1469.7 L1142.0 1468.2 L1144.0 1466.8 L1146.0 1465.4 L1148.0 1464.2 L1150.0 1463.1 L1152.0 1462.0 L1154.0 1461.0 L1156.0 1460.2 L1158.0 1459.4 L1160.0 1458.7 L1162.0 1458.1 L1164.0 1457.6 L1166.0 1457.2 L1168.0 1456.9 L1170.0 1456.7 L1172.0 1456.6 L1174.0 1456.5 L1176.0 1456.6 L1178.0 1456.7 L1180.0 1456.9 L1182.0 1457.2 L1184.0 1457.6 L1186.0 1458.1 L1188.0 1458.7 L1190.0 1459.3 L1192.0 1460.0 L1194.0 1460.8 L1196.0 1461.7 L1198.0 1462.6 L1200.0 1463.7 L1202.0 1464.8 L1204.0 1466.0 L1206.0 1467.3 L1208.0 1468.6 L1210.0 1470.0 L1212.0 1471.5 L1214.0 1473.1 L1216.0 1474.7 L1218.0 1476.3 L1220.0 1478.1 L1222.0 1479.8 L1224.0 1481.6 L1226.0 1483.4 L1228.0 1485.2 L1230.0 1487.1 L1232.0 1489.0 L1234.0 1490.8 L1236.0 1492.8 L1238.0 1494.7 L1240.0 1496.6 L1242.0 1498.6 L1244.0 1500.6 L1246.0 1502.7 L1248.0 1504.8 L1250.0 1506.9 L1252.0 1509.1 L1254.0 1511.3 L1256.0 1513.6 L1258.0 1515.9 L1260.0 1518.2 L1262.0 1520.6 L1264.0 1523.1 L1266.0 1525.5 L1268.0 1528.0 L1270.0 1530.5 L1272.0 1533.0 L1274.0 1535.5 L1276.0 1537.9 L1278.0 1540.3 L1280.0 1542.6 L1282.0 1544.9 L1284.0 1547.1 L1286.0 1549.3 L1288.0 1551.5 L1290.0 1553.6 L1292.0 1555.7 L1294.0 1557.7 L1296.0 1559.7 L1298.0 1561.7 L1300.0 1563.6 L1302.0 1565.5 L1304.0 1567.3 L1306.0 1569.2 L1308.0 1571.0 L1310.0 1572.7 L1312.0 1574.5 L1314.0 1576.1 L1316.0 1577.8 L1318.0 1579.4 L1320.0 1581.0 L1322.0 1582.5 L1324.0 1584.0 L1326.0 1585.4 L1328.0 1586.8 L1330.0 1588.2 L1332.0 1589.4 L1334.0 1590.6 L1336.0 1591.8 L1338.0 1592.9 L1340.0 1593.9 L1342.0 1594.9 L1344.0 1595.7 L1346.0 1596.6 L1348.0 1597.3 L1350.0 1598.0 L1352.0 1598.7 L1354.0 1599.3 L1356.0 1599.8 L1358.0 1600.3 L1360.0 1600.7 L1362.0 1601.1 L1364.0 1601.4 L1366.0 1601.7 L1368.0 1601.9 L1370.0 1602.1 L1372.0 1602.3 L1374.0 1602.4 L1376.0 1602.4 L1378.0 1602.4 L1380.0 1602.4 L1382.0 1602.3 L1384.0 1602.1 L1386.0 1601.9 L1388.0 1601.6 L1390.0 1601.3 L1392.0 1600.9 L1394.0 1600.4 L1396.0 1599.8 L1398.0 1599.2 L1400.0 1598.5 L1402.0 1597.7 L1404.0 1596.9 L1406.0 1595.9 L1408.0 1594.9 L1410.0 1593.8 L1412.0 1592.7 L1414.0 1591.5 L1416.0 1590.3 L1418.0 1589.0 L1420.0 1587.7 L1422.0 1586.3 L1424.0 1584.9 L1426.0 1583.5 L1428.0 1582.1 L1430.0 1580.7 L1432.0 1579.2 L1434.0 1577.7 L1436.0 1576.3 L1438.0 1574.8 L1440.0 1573.2 L1442.0 1571.7 L1444.0 1570.1 L1446.0 1568.5 L1448.0 1566.9 L1450.0 1565.2 L1452.0 1563.6 L1454.0 1561.8 L1456.0 1560.1 L1458.0 1558.3 L1460.0 1556.5 L1462.0 1554.7 L1464.0 1552.9 L1466.0 1551.1 L1468.0 1549.3 L1470.0 1547.5 L1472.0 1545.8 L1474.0 1544.0 L1476.0 1542.3 L1478.0 1540.7 L1480.0 1539.0 L1482.0 1537.3 L1484.0 1535.7 L1486.0 1534.1 L1488.0 1532.5 L1490.0 1530.9 L1492.0 1529.3 L1494.0 1527.7 L1496.0 1526.1 L1498.0 1524.5 L1500.0 1522.9 L1502.0 1521.3 L1504.0 1519.6 L1506.0 1518.0 L1508.0 1516.5 L1510.0 1514.9 L1512.0 1513.3 L1514.0 1511.8 L1516.0 1510.3 L1518.0 1508.9 L1520.0 1507.5 L1522.0 1506.1 L1524.0 1504.8 L1526.0 1503.6 L1528.0 1502.4 L1530.0 1501.3 L1532.0 1500.2 L1534.0 1499.2 L1536.0 1498.3 L1538.0 1497.4 L1540.0 1496.6 L1542.0 1495.8 L1544.0 1495.1 L1546.0 1494.4 L1548.0 1493.8 L1550.0 1493.3 L1552.0 1492.8 L1554.0 1492.3 L1556.0 1491.9 L1558.0 1491.5 L1560.0 1491.2 L1562.0 1490.9 L1564.0 1490.7 L1566.0 1490.5 L1568.0 1490.4 L1570.0 1490.3 L1572.0 1490.3 L1574.0 1490.3 L1576.0 1490.3 L1578.0 1490.4 L1580.0 1490.5 L1582.0 1490.7 L1584.0 1491.0 L1586.0 1491.3 L1588.0 1491.6 L1590.0 1492.0 L1592.0 1492.4 L1594.0 1492.9 L1596.0 1493.5 L1598.0 1494.1 L1600.0 1494.7 L1602.0 1495.4 L1604.0 1496.1 L1606.0 1496.9 L1608.0 1497.7 L1610.0 1498.6 L1612.0 1499.5 L1614.0 1500.5 L1616.0 1501.5 L1618.0 1502.5 L1620.0 1503.6 L1622.0 1504.8 L1624.0 1505.9 L1626.0 1507.2 L1628.0 1508.4 L1630.0 1509.7 L1632.0 1511.1 L1634.0 1512.4 L1636.0 1513.8 L1638.0 1515.3 L1640.0 1516.7 L1642.0 1518.2 L1644.0 1519.7 L1646.0 1521.2 L1648.0 1522.7 L1650.0 1524.2 L1652.0 1525.8 L1654.0 1527.3 L1656.0 1528.8 L1658.0 1530.3 L1660.0 1531.9 L1662.0 1533.4 L1664.0 1534.9 L1666.0 1536.3 L1668.0 1537.8 L1670.0 1539.2 L1672.0 1540.6 L1674.0 1542.0 L1676.0 1543.4 L1678.0 1544.8 L1680.0 1546.1 L1682.0 1547.4 L1684.0 1548.7 L1686.0 1550.0 L1688.0 1551.3 L1690.0 1552.6 L1692.0 1553.9 L1694.0 1555.2 L1696.0 1556.4 L1698.0 1557.7 L1700.0 1559.0 L1702.0 1560.2 L1704.0 1561.5 L1706.0 1562.7 L1708.0 1564.0 L1710.0 1565.2 L1712.0 1566.4 L1714.0 1567.6 L1716.0 1568.7 L1718.0 1569.9 L1720.0 1570.9 L1722.0 1572.0 L1724.0 1572.9 L1726.0 1573.9 L1728.0 1574.7 L1730.0 1575.5 L1732.0 1576.3 L1734.0 1577.0 L1736.0 1577.6 L1738.0 1578.2 L1740.0 1578.7 L1742.0 1579.1 L1744.0 1579.5 L1746.0 1579.9 L1748.0 1580.2 L1750.0 1580.4 L1752.0 1580.6 L1754.0 1580.7 L1756.0 1580.8 L1758.0 1580.8 L1760.0 1580.8 L1762.0 1580.8 L1764.0 1580.6 L1766.0 1580.5 L1768.0 1580.3 L1770.0 1580.1 L1772.0 1579.8 L1774.0 1579.5 L1776.0 1579.2 L1778.0 1578.9 L1780.0 1578.5 L1782.0 1578.1 L1784.0 1577.8 L1786.0 1577.3 L1788.0 1576.9 L1790.0 1576.4 L1792.0 1575.9 L1794.0 1575.3 L1796.0 1574.6 L1798.0 1573.9 L1800.0 1573.1 L1802.0 1572.2 L1804.0 1571.4 L1806.0 1570.4 L1808.0 1569.4 L1810.0 1568.4 L1812.0 1567.3 L1814.0 1566.2 L1816.0 1565.1 L1818.0 1563.9 L1820.0 1562.7 L1822.0 1561.5 L1824.0 1560.3 L1826.0 1559.1 L1828.0 1557.9 L1830.0 1556.7 L1832.0 1555.4 L1834.0 1554.2 L1836.0 1553.0 L1838.0 1551.7 L1840.0 1550.5 L1842.0 1549.2 L1844.0 1548.0 L1846.0 1546.7 L1848.0 1545.5 L1850.0 1544.2 L1852.0 1543.0 L1854.0 1541.8 L1856.0 1540.5 L1858.0 1539.3 L1860.0 1538.1 L1862.0 1536.9 L1864.0 1535.7 L1866.0 1534.6 L1868.0 1533.4 L1870.0 1532.2 L1872.0 1531.1 L1874.0 1529.9 L1876.0 1528.8 L1878.0 1527.7 L1880.0 1526.6 L1882.0 1525.5 L1884.0 1524.4 L1886.0 1523.4 L1888.0 1522.3 L1890.0 1521.3 L1892.0 1520.3 L1894.0 1519.3 L1896.0 1518.3 L1898.0 1517.4 L1900.0 1516.5 L1902.0 1515.6 L1904.0 1514.7 L1906.0 1513.8 L1908.0 1513.0 L1910.0 1512.2 L1912.0 1511.5 L1914.0 1510.8 L1916.0 1510.1 L1918.0 1509.5 L1920.0 1508.9 L1922.0 1508.3 L1924.0 1507.8 L1926.0 1507.3 L1928.0 1506.9 L1930.0 1506.5 L1932.0 1506.2 L1934.0 1505.9 L1936.0 1505.7 L1938.0 1505.5 L1940.0 1505.3 L1942.0 1505.2 L1944.0 1505.2 L1946.0 1505.1 L1948.0 1505.1 L1950.0 1505.2 L1952.0 1505.3 L1954.0 1505.4 L1956.0 1505.6 L1958.0 1505.9 L1960.0 1506.1 L1962.0 1506.4 L1964.0 1506.8 L1966.0 1507.1 L1968.0 1507.5 L1970.0 1508.0 L1972.0 1508.5 L1974.0 1509.0 L1976.0 1509.5 L1978.0 1510.1 L1980.0 1510.7 L1982.0 1511.3 L1984.0 1511.9 L1986.0 1512.6 L1988.0 1513.3 L1990.0 1514.0 L1992.0 1514.7 L1994.0 1515.5 L1996.0 1516.2 L1998.0 1517.0 L2000.0 1517.8 L2002.0 1518.5 L2004.0 1519.3 L2006.0 1520.1 L2008.0 1520.9 L2010.0 1521.7 L2012.0 1522.5 L2014.0 1523.3 L2016.0 1524.1 L2018.0 1524.9 L2020.0 1525.6 L2022.0 1526.4 L2024.0 1527.2 L2026.0 1528.0 L2028.0 1528.7 L2030.0 1529.5 L2032.0 1530.3 L2034.0 1531.1 L2036.0 1531.8 L2038.0 1532.6 L2040.0 1533.4 L2042.0 1534.1 L2044.0 1534.9 L2046.0 1535.7 L2048.0 1536.5 L2050.0 1537.3 L2052.0 1538.0 L2054.0 1538.8 L2056.0 1539.6 L2058.0 1540.4 L2060.0 1541.2 L2062.0 1542.0 L2064.0 1542.8 L2066.0 1543.5 L2068.0 1544.3 L2070.0 1545.1 L2072.0 1545.9 L2074.0 1546.6 L2076.0 1547.4 L2078.0 1548.1 L2080.0 1548.9 L2082.0 1549.6 L2084.0 1550.3 L2086.0 1551.0 L2088.0 1551.8 L2090.0 1552.5 L2092.0 1553.1 L2094.0 1553.8 L2096.0 1554.5 L2098.0 1555.1 L2100.0 1555.8 L2102.0 1556.4 L2104.0 1557.0 L2106.0 1557.5 L2108.0 1558.1 L2110.0 1558.6 L2112.0 1559.1 L2114.0 1559.5 L2116.0 1560.0 L2118.0 1560.4 L2120.0 1560.7 L2122.0 1561.0 L2124.0 1561.3 L2126.0 1561.6 L2128.0 1561.8 L2130.0 1561.9 L2132.0 1562.1 L2134.0 1562.2 L2136.0 1562.3 L2138.0 1562.3 L2140.0 1562.3 L2142.0 1562.3 L2144.0 1562.3 L2146.0 1562.2 L2148.0 1562.1 L2150.0 1562.1 L2152.0 1562.0 L2154.0 1561.8 L2156.0 1561.7 L2158.0 1561.6 L2160.0 1561.4 L2162.0 1561.3 L2164.0 1561.1 L2166.0 1560.9 L2168.0 1560.8 L2170.0 1560.6 L2172.0 1560.4 L2174.0 1560.2 L2176.0 1560.0 L2178.0 1559.8 L2180.0 1559.6 L2182.0 1559.4 L2184.0 1559.2 L2186.0 1559.0 L2188.0 1558.7 L2190.0 1558.5 L2192.0 1558.3 L2194.0 1558.0 L2196.0 1557.8 L2198.0 1557.6 L2200.0 1557.3" fill="none" stroke="#000" stroke-width="5.0" stroke-linejoin="round"/>
<rect x="276.7" y="1513.1" width="20.8" height="20.8" fill="#fff" stroke="#00f" stroke-width="2.9"/><rect x="285.3" y="1522.2" width="3.6" height="2.6" fill="#00f"/>
<rect x="315.7" y="1397.5" width="20.8" height="20.8" fill="#fff" stroke="#00f" stroke-width="2.9"/><rect x="324.3" y="1406.6" width="3.6" height="2.6" fill="#00f"/>
<rect x="347.5" y="1338.0" width="20.8" height="20.8" fill="#fff" stroke="#00f" stroke-width="2.9"/><rect x="356.1" y="1347.1" width="3.6" height="2.6" fill="#00f"/>
<rect x="370.5" y="1323.3" width="20.8" height="20.8" fill="#fff" stroke="#00f" stroke-width="2.9"/><rect x="379.1" y="1332.4" width="3.6" height="2.6" fill="#00f"/>
<rect x="388.1" y="1329.3" width="20.8" height="20.8" fill="#fff" stroke="#00f" stroke-width="2.9"/><rect x="396.7" y="1338.4" width="3.6" height="2.6" fill="#00f"/>
<rect x="400.5" y="1342.4" width="20.8" height="20.8" fill="#fff" stroke="#00f" stroke-width="2.9"/><rect x="409.1" y="1351.5" width="3.6" height="2.6" fill="#00f"/>
<rect x="418.3" y="1372.1" width="20.8" height="20.8" fill="#fff" stroke="#00f" stroke-width="2.9"/><rect x="426.9" y="1381.2" width="3.6" height="2.6" fill="#00f"/>
<rect x="437.9" y="1419.0" width="20.8" height="20.8" fill="#fff" stroke="#00f" stroke-width="2.9"/><rect x="446.5" y="1428.1" width="3.6" height="2.6" fill="#00f"/>
<rect x="457.5" y="1474.5" width="20.8" height="20.8" fill="#fff" stroke="#00f" stroke-width="2.9"/><rect x="466.1" y="1483.6" width="3.6" height="2.6" fill="#00f"/>
<rect x="475.6" y="1528.2" width="20.8" height="20.8" fill="#fff" stroke="#00f" stroke-width="2.9"/><rect x="484.2" y="1537.3" width="3.6" height="2.6" fill="#00f"/>
<rect x="494.2" y="1578.9" width="20.8" height="20.8" fill="#fff" stroke="#00f" stroke-width="2.9"/><rect x="502.8" y="1588.0" width="3.6" height="2.6" fill="#00f"/>
<rect x="507.7" y="1612.7" width="20.8" height="20.8" fill="#fff" stroke="#00f" stroke-width="2.9"/><rect x="516.3" y="1621.8" width="3.6" height="2.6" fill="#00f"/>
<rect x="525.4" y="1653.3" width="20.8" height="20.8" fill="#fff" stroke="#00f" stroke-width="2.9"/><rect x="534.0" y="1662.4" width="3.6" height="2.6" fill="#00f"/>
<rect x="545.2" y="1683.0" width="20.8" height="20.8" fill="#fff" stroke="#00f" stroke-width="2.9"/><rect x="553.8" y="1692.1" width="3.6" height="2.6" fill="#00f"/>
<rect x="572.5" y="1698.3" width="20.8" height="20.8" fill="#fff" stroke="#00f" stroke-width="2.9"/><rect x="581.1" y="1707.4" width="3.6" height="2.6" fill="#00f"/>
<rect x="600.5" y="1680.9" width="20.8" height="20.8" fill="#fff" stroke="#00f" stroke-width="2.9"/><rect x="609.1" y="1690.0" width="3.6" height="2.6" fill="#00f"/>
<rect x="620.6" y="1653.6" width="20.8" height="20.8" fill="#fff" stroke="#00f" stroke-width="2.9"/><rect x="629.2" y="1662.7" width="3.6" height="2.6" fill="#00f"/>
<rect x="647.4" y="1600.4" width="20.8" height="20.8" fill="#fff" stroke="#00f" stroke-width="2.9"/><rect x="656.0" y="1609.5" width="3.6" height="2.6" fill="#00f"/>
<rect x="664.5" y="1559.6" width="20.8" height="20.8" fill="#fff" stroke="#00f" stroke-width="2.9"/><rect x="673.1" y="1568.7" width="3.6" height="2.6" fill="#00f"/>
<rect x="680.5" y="1521.4" width="20.8" height="20.8" fill="#fff" stroke="#00f" stroke-width="2.9"/><rect x="689.1" y="1530.5" width="3.6" height="2.6" fill="#00f"/>
<rect x="697.6" y="1482.3" width="20.8" height="20.8" fill="#fff" stroke="#00f" stroke-width="2.9"/><rect x="706.2" y="1491.4" width="3.6" height="2.6" fill="#00f"/>
<rect x="715.5" y="1448.7" width="20.8" height="20.8" fill="#fff" stroke="#00f" stroke-width="2.9"/><rect x="724.1" y="1457.8" width="3.6" height="2.6" fill="#00f"/>
<rect x="735.0" y="1419.0" width="20.8" height="20.8" fill="#fff" stroke="#00f" stroke-width="2.9"/><rect x="743.6" y="1428.1" width="3.6" height="2.6" fill="#00f"/>
<rect x="755.1" y="1400.1" width="20.8" height="20.8" fill="#fff" stroke="#00f" stroke-width="2.9"/><rect x="763.7" y="1409.2" width="3.6" height="2.6" fill="#00f"/>
<rect x="783.6" y="1397.0" width="20.8" height="20.8" fill="#fff" stroke="#00f" stroke-width="2.9"/><rect x="792.2" y="1406.1" width="3.6" height="2.6" fill="#00f"/>
<rect x="811.9" y="1421.1" width="20.8" height="20.8" fill="#fff" stroke="#00f" stroke-width="2.9"/><rect x="820.5" y="1430.2" width="3.6" height="2.6" fill="#00f"/>
<rect x="842.5" y="1468.2" width="20.8" height="20.8" fill="#fff" stroke="#00f" stroke-width="2.9"/><rect x="851.1" y="1477.3" width="3.6" height="2.6" fill="#00f"/>
<rect x="866.5" y="1512.7" width="20.8" height="20.8" fill="#fff" stroke="#00f" stroke-width="2.9"/><rect x="875.1" y="1521.8" width="3.6" height="2.6" fill="#00f"/>
<rect x="886.5" y="1548.5" width="20.8" height="20.8" fill="#fff" stroke="#00f" stroke-width="2.9"/><rect x="895.1" y="1557.6" width="3.6" height="2.6" fill="#00f"/>
<rect x="904.6" y="1578.9" width="20.8" height="20.8" fill="#fff" stroke="#00f" stroke-width="2.9"/><rect x="913.2" y="1588.0" width="3.6" height="2.6" fill="#00f"/>
<rect x="924.2" y="1608.6" width="20.8" height="20.8" fill="#fff" stroke="#00f" stroke-width="2.9"/><rect x="932.8" y="1617.7" width="3.6" height="2.6" fill="#00f"/>
<rect x="947.4" y="1628.2" width="20.8" height="20.8" fill="#fff" stroke="#00f" stroke-width="2.9"/><rect x="956.0" y="1637.3" width="3.6" height="2.6" fill="#00f"/>
<rect x="973.5" y="1634.9" width="20.8" height="20.8" fill="#fff" stroke="#00f" stroke-width="2.9"/><rect x="982.1" y="1644.0" width="3.6" height="2.6" fill="#00f"/>
<rect x="994.5" y="1626.0" width="20.8" height="20.8" fill="#fff" stroke="#00f" stroke-width="2.9"/><rect x="1003.1" y="1635.1" width="3.6" height="2.6" fill="#00f"/>
<rect x="1017.2" y="1604.7" width="20.8" height="20.8" fill="#fff" stroke="#00f" stroke-width="2.9"/><rect x="1025.8" y="1613.8" width="3.6" height="2.6" fill="#00f"/>
<rect x="1031.0" y="1587.8" width="20.8" height="20.8" fill="#fff" stroke="#00f" stroke-width="2.9"/><rect x="1039.6" y="1596.9" width="3.6" height="2.6" fill="#00f"/>
<rect x="1042.3" y="1570.4" width="20.8" height="20.8" fill="#fff" stroke="#00f" stroke-width="2.9"/><rect x="1050.9" y="1579.5" width="3.6" height="2.6" fill="#00f"/>
<rect x="1057.3" y="1547.0" width="20.8" height="20.8" fill="#fff" stroke="#00f" stroke-width="2.9"/><rect x="1065.9" y="1556.1" width="3.6" height="2.6" fill="#00f"/>
<rect x="1074.2" y="1523.3" width="20.8" height="20.8" fill="#fff" stroke="#00f" stroke-width="2.9"/><rect x="1082.8" y="1532.4" width="3.6" height="2.6" fill="#00f"/>
<rect x="1094.3" y="1495.3" width="20.8" height="20.8" fill="#fff" stroke="#00f" stroke-width="2.9"/><rect x="1102.9" y="1504.4" width="3.6" height="2.6" fill="#00f"/>
<rect x="1117.2" y="1469.9" width="20.8" height="20.8" fill="#fff" stroke="#00f" stroke-width="2.9"/><rect x="1125.8" y="1479.0" width="3.6" height="2.6" fill="#00f"/>
<rect x="1142.6" y="1451.1" width="20.8" height="20.8" fill="#fff" stroke="#00f" stroke-width="2.9"/><rect x="1151.2" y="1460.2" width="3.6" height="2.6" fill="#00f"/>
<rect x="1172.5" y="1447.0" width="20.8" height="20.8" fill="#fff" stroke="#00f" stroke-width="2.9"/><rect x="1181.1" y="1456.1" width="3.6" height="2.6" fill="#00f"/>
<rect x="1196.4" y="1457.4" width="20.8" height="20.8" fill="#fff" stroke="#00f" stroke-width="2.9"/><rect x="1205.0" y="1466.5" width="3.6" height="2.6" fill="#00f"/>
<rect x="1219.4" y="1476.5" width="20.8" height="20.8" fill="#fff" stroke="#00f" stroke-width="2.9"/><rect x="1228.0" y="1485.6" width="3.6" height="2.6" fill="#00f"/>
<rect x="1248.4" y="1506.4" width="20.8" height="20.8" fill="#fff" stroke="#00f" stroke-width="2.9"/><rect x="1257.0" y="1515.5" width="3.6" height="2.6" fill="#00f"/>
<rect x="1267.2" y="1529.4" width="20.8" height="20.8" fill="#fff" stroke="#00f" stroke-width="2.9"/><rect x="1275.8" y="1538.5" width="3.6" height="2.6" fill="#00f"/>
<rect x="1296.2" y="1559.3" width="20.8" height="20.8" fill="#fff" stroke="#00f" stroke-width="2.9"/><rect x="1304.8" y="1568.4" width="3.6" height="2.6" fill="#00f"/>
<rect x="1328.6" y="1583.0" width="20.8" height="20.8" fill="#fff" stroke="#00f" stroke-width="2.9"/><rect x="1337.2" y="1592.1" width="3.6" height="2.6" fill="#00f"/>
<rect x="1359.3" y="1591.7" width="20.8" height="20.8" fill="#fff" stroke="#00f" stroke-width="2.9"/><rect x="1367.9" y="1600.8" width="3.6" height="2.6" fill="#00f"/>
<rect x="1391.4" y="1587.4" width="20.8" height="20.8" fill="#fff" stroke="#00f" stroke-width="2.9"/><rect x="1400.0" y="1596.5" width="3.6" height="2.6" fill="#00f"/>
<rect x="1419.4" y="1570.4" width="20.8" height="20.8" fill="#fff" stroke="#00f" stroke-width="2.9"/><rect x="1428.0" y="1579.5" width="3.6" height="2.6" fill="#00f"/>
<rect x="1441.2" y="1553.5" width="20.8" height="20.8" fill="#fff" stroke="#00f" stroke-width="2.9"/><rect x="1449.8" y="1562.6" width="3.6" height="2.6" fill="#00f"/>
<rect x="1461.0" y="1535.9" width="20.8" height="20.8" fill="#fff" stroke="#00f" stroke-width="2.9"/><rect x="1469.6" y="1545.0" width="3.6" height="2.6" fill="#00f"/>
<rect x="1489.3" y="1512.7" width="20.8" height="20.8" fill="#fff" stroke="#00f" stroke-width="2.9"/><rect x="1497.9" y="1521.8" width="3.6" height="2.6" fill="#00f"/>
<rect x="1514.4" y="1493.9" width="20.8" height="20.8" fill="#fff" stroke="#00f" stroke-width="2.9"/><rect x="1523.0" y="1503.0" width="3.6" height="2.6" fill="#00f"/>
<rect x="1548.4" y="1481.0" width="20.8" height="20.8" fill="#fff" stroke="#00f" stroke-width="2.9"/><rect x="1557.0" y="1490.1" width="3.6" height="2.6" fill="#00f"/>
<rect x="1583.5" y="1482.5" width="20.8" height="20.8" fill="#fff" stroke="#00f" stroke-width="2.9"/><rect x="1592.1" y="1491.6" width="3.6" height="2.6" fill="#00f"/>
<rect x="1616.3" y="1497.2" width="20.8" height="20.8" fill="#fff" stroke="#00f" stroke-width="2.9"/><rect x="1624.9" y="1506.3" width="3.6" height="2.6" fill="#00f"/>
<rect x="1658.3" y="1527.9" width="20.8" height="20.8" fill="#fff" stroke="#00f" stroke-width="2.9"/><rect x="1666.9" y="1537.0" width="3.6" height="2.6" fill="#00f"/>
<rect x="1689.5" y="1548.5" width="20.8" height="20.8" fill="#fff" stroke="#00f" stroke-width="2.9"/><rect x="1698.1" y="1557.6" width="3.6" height="2.6" fill="#00f"/>
<rect x="1717.3" y="1564.2" width="20.8" height="20.8" fill="#fff" stroke="#00f" stroke-width="2.9"/><rect x="1725.9" y="1573.3" width="3.6" height="2.6" fill="#00f"/>
<rect x="1750.4" y="1570.4" width="20.8" height="20.8" fill="#fff" stroke="#00f" stroke-width="2.9"/><rect x="1759.0" y="1579.5" width="3.6" height="2.6" fill="#00f"/>
<rect x="1768.5" y="1568.3" width="20.8" height="20.8" fill="#fff" stroke="#00f" stroke-width="2.9"/><rect x="1777.1" y="1577.4" width="3.6" height="2.6" fill="#00f"/>
<rect x="1785.6" y="1564.2" width="20.8" height="20.8" fill="#fff" stroke="#00f" stroke-width="2.9"/><rect x="1794.2" y="1573.3" width="3.6" height="2.6" fill="#00f"/>
<rect x="1812.0" y="1550.9" width="20.8" height="20.8" fill="#fff" stroke="#00f" stroke-width="2.9"/><rect x="1820.6" y="1560.0" width="3.6" height="2.6" fill="#00f"/>
<rect x="1839.0" y="1534.2" width="20.8" height="20.8" fill="#fff" stroke="#00f" stroke-width="2.9"/><rect x="1847.6" y="1543.3" width="3.6" height="2.6" fill="#00f"/>
<rect x="1880.4" y="1510.5" width="20.8" height="20.8" fill="#fff" stroke="#00f" stroke-width="2.9"/><rect x="1889.0" y="1519.6" width="3.6" height="2.6" fill="#00f"/>
<rect x="1913.2" y="1497.5" width="20.8" height="20.8" fill="#fff" stroke="#00f" stroke-width="2.9"/><rect x="1921.8" y="1506.6" width="3.6" height="2.6" fill="#00f"/>
<rect x="1948.0" y="1495.5" width="20.8" height="20.8" fill="#fff" stroke="#00f" stroke-width="2.9"/><rect x="1956.6" y="1504.6" width="3.6" height="2.6" fill="#00f"/>
<rect x="1969.0" y="1500.1" width="20.8" height="20.8" fill="#fff" stroke="#00f" stroke-width="2.9"/><rect x="1977.6" y="1509.2" width="3.6" height="2.6" fill="#00f"/>
<rect x="2003.1" y="1512.7" width="20.8" height="20.8" fill="#fff" stroke="#00f" stroke-width="2.9"/><rect x="2011.7" y="1521.8" width="3.6" height="2.6" fill="#00f"/>
<rect x="2035.6" y="1525.3" width="20.8" height="20.8" fill="#fff" stroke="#00f" stroke-width="2.9"/><rect x="2044.2" y="1534.4" width="3.6" height="2.6" fill="#00f"/>
<rect x="2080.6" y="1542.4" width="20.8" height="20.8" fill="#fff" stroke="#00f" stroke-width="2.9"/><rect x="2089.2" y="1551.5" width="3.6" height="2.6" fill="#00f"/>
<rect x="2113.4" y="1550.9" width="20.8" height="20.8" fill="#fff" stroke="#00f" stroke-width="2.9"/><rect x="2122.0" y="1560.0" width="3.6" height="2.6" fill="#00f"/>
<rect x="2148.5" y="1551.1" width="20.8" height="20.8" fill="#fff" stroke="#00f" stroke-width="2.9"/><rect x="2157.1" y="1560.2" width="3.6" height="2.6" fill="#00f"/>
<rect x="2174.3" y="1548.7" width="20.8" height="20.8" fill="#fff" stroke="#00f" stroke-width="2.9"/><rect x="2182.9" y="1557.8" width="3.6" height="2.6" fill="#00f"/>
<rect x="2188.1" y="1547.1" width="20.8" height="20.8" fill="#fff" stroke="#00f" stroke-width="2.9"/><rect x="2196.7" y="1556.2" width="3.6" height="2.6" fill="#00f"/>
<path d="M284.0 1543.6 L286.0 1537.0 L288.0 1530.5 L290.0 1524.0 L292.0 1517.5 L294.0 1511.1 L296.0 1504.6 L298.0 1498.2 L300.0 1491.9 L302.0 1485.6 L304.0 1479.3 L306.0 1473.1 L308.0 1467.0 L310.0 1460.9 L312.0 1455.0 L314.0 1449.1 L316.0 1443.3 L318.0 1437.6 L320.0 1432.0 L322.0 1426.5 L324.0 1421.1 L326.0 1415.9 L328.0 1410.8 L330.0 1405.8 L332.0 1400.9 L334.0 1396.2 L336.0 1391.6 L338.0 1387.2 L340.0 1382.9 L342.0 1378.8 L344.0 1374.9 L346.0 1371.1 L348.0 1367.5 L350.0 1364.1 L352.0 1360.9 L354.0 1357.8 L356.0 1354.9 L358.0 1352.2 L360.0 1349.7 L362.0 1347.4 L364.0 1345.3 L366.0 1343.4 L368.0 1341.7 L370.0 1340.2 L372.0 1338.9 L374.0 1337.8 L376.0 1336.9 L378.0 1336.2 L380.0 1335.7 L382.0 1335.5 L384.0 1335.4 L386.0 1335.5 L388.0 1335.8 L390.0 1336.3 L392.0 1337.0 L394.0 1337.9 L396.0 1339.0 L398.0 1340.2 L400.0 1341.6 L402.0 1343.2 L404.0 1345.0 L406.0 1346.9 L408.0 1349.0 L410.0 1351.3 L412.0 1353.8 L414.0 1356.4 L416.0 1359.2 L418.0 1362.2 L420.0 1365.3 L422.0 1368.6 L424.0 1372.0 L426.0 1375.6 L428.0 1379.3 L430.0 1383.1 L432.0 1387.1 L434.0 1391.3 L436.0 1395.5 L438.0 1399.9 L440.0 1404.4 L442.0 1409.1 L444.0 1413.8 L446.0 1418.6 L448.0 1423.6 L450.0 1428.6 L452.0 1433.8 L454.0 1439.0 L456.0 1444.3 L458.0 1449.7 L460.0 1455.2 L462.0 1460.7 L464.0 1466.3 L466.0 1471.9 L468.0 1477.6 L470.0 1483.3 L472.0 1489.1 L474.0 1494.9 L476.0 1500.8 L478.0 1506.6 L480.0 1512.5 L482.0 1518.4 L484.0 1524.3 L486.0 1530.1 L488.0 1536.0 L490.0 1541.9 L492.0 1547.7 L494.0 1553.5 L496.0 1559.3 L498.0 1565.1 L500.0 1570.8 L502.0 1576.4 L504.0 1582.0 L506.0 1587.6 L508.0 1593.0 L510.0 1598.4 L512.0 1603.8 L514.0 1609.0 L516.0 1614.2 L518.0 1619.3 L520.0 1624.2 L522.0 1629.1 L524.0 1633.9 L526.0 1638.5 L528.0 1643.1 L530.0 1647.5 L532.0 1651.8 L534.0 1655.9 L536.0 1660.0 L538.0 1663.9 L540.0 1667.6 L542.0 1671.2 L544.0 1674.7 L546.0 1678.0 L548.0 1681.2 L550.0 1684.2 L552.0 1687.0 L554.0 1689.7 L556.0 1692.2 L558.0 1694.5 L560.0 1696.7 L562.0 1698.7 L564.0 1700.5 L566.0 1702.1 L568.0 1703.6 L570.0 1704.9 L572.0 1706.0 L574.0 1706.9 L576.0 1707.6 L578.0 1708.1 L580.0 1708.5 L582.0 1708.7 L584.0 1708.7 L586.0 1708.5 L588.0 1708.2 L590.0 1707.7 L592.0 1707.1 L594.0 1706.3 L596.0 1705.4 L598.0 1704.3 L600.0 1703.1 L602.0 1701.8 L604.0 1700.2 L606.0 1698.6 L608.0 1696.8 L610.0 1694.8 L612.0 1692.7 L614.0 1690.5 L616.0 1688.1 L618.0 1685.7 L620.0 1683.0 L622.0 1680.3 L624.0 1677.4 L626.0 1674.4 L628.0 1671.3 L630.0 1668.1 L632.0 1664.7 L634.0 1661.3 L636.0 1657.7 L638.0 1654.0 L640.0 1650.3 L642.0 1646.4 L644.0 1642.5 L646.0 1638.4 L648.0 1634.3 L650.0 1630.1 L652.0 1625.9 L654.0 1621.5 L656.0 1617.1 L658.0 1612.7 L660.0 1608.1 L662.0 1603.6 L664.0 1598.9 L666.0 1594.3 L668.0 1589.6 L670.0 1584.8 L672.0 1580.1 L674.0 1575.3 L676.0 1570.5 L678.0 1565.6 L680.0 1560.8 L682.0 1556.0 L684.0 1551.1 L686.0 1546.3 L688.0 1541.5 L690.0 1536.7 L692.0 1531.9 L694.0 1527.1 L696.0 1522.4 L698.0 1517.7 L700.0 1513.0 L702.0 1508.4 L704.0 1503.8 L706.0 1499.3 L708.0 1494.8 L710.0 1490.4 L712.0 1486.1 L714.0 1481.8 L716.0 1477.7 L718.0 1473.5 L720.0 1469.5 L722.0 1465.6 L724.0 1461.7 L726.0 1458.0 L728.0 1454.3 L730.0 1450.8 L732.0 1447.3 L734.0 1444.0 L736.0 1440.8 L738.0 1437.7 L740.0 1434.7 L742.0 1431.8 L744.0 1429.1 L746.0 1426.5 L748.0 1424.0 L750.0 1421.7 L752.0 1419.5 L754.0 1417.4 L756.0 1415.4 L758.0 1413.7 L760.0 1412.0 L762.0 1410.5 L764.0 1409.1 L766.0 1407.9 L768.0 1406.9 L770.0 1406.0 L772.0 1405.2 L774.0 1404.6 L776.0 1404.2 L778.0 1403.9 L780.0 1403.7 L782.0 1403.7 L784.0 1403.8 L786.0 1404.1 L788.0 1404.5 L790.0 1404.9 L792.0 1405.5 L794.0 1406.3 L796.0 1407.1 L798.0 1408.1 L800.0 1409.1 L802.0 1410.3 L804.0 1411.6 L806.0 1413.0 L808.0 1414.6 L810.0 1416.2 L812.0 1417.9 L814.0 1419.8 L816.0 1421.7 L818.0 1423.8 L820.0 1426.0 L822.0 1428.2 L824.0 1430.6 L826.0 1433.0 L828.0 1435.5 L830.0 1438.1 L832.0 1440.9 L834.0 1443.6 L836.0 1446.5 L838.0 1449.5 L840.0 1452.5 L842.0 1455.6 L844.0 1458.8 L846.0 1462.0 L848.0 1465.3 L850.0 1468.6 L852.0 1472.0 L854.0 1475.5 L856.0 1479.0 L858.0 1482.6 L860.0 1486.1 L862.0 1489.8 L864.0 1493.5 L866.0 1497.2 L868.0 1500.9 L870.0 1504.6 L872.0 1508.4 L874.0 1512.2 L876.0 1516.0 L878.0 1519.8 L880.0 1523.6 L882.0 1527.4 L884.0 1531.2 L886.0 1535.0 L888.0 1538.8 L890.0 1542.6 L892.0 1546.4 L894.0 1550.1 L896.0 1553.8 L898.0 1557.5 L900.0 1561.2 L902.0 1564.8 L904.0 1568.4 L906.0 1571.9 L908.0 1575.4 L910.0 1578.8 L912.0 1582.2 L914.0 1585.6 L916.0 1588.8 L918.0 1592.0 L920.0 1595.2 L922.0 1598.2 L924.0 1601.2 L926.0 1604.1 L928.0 1607.0 L930.0 1609.7 L932.0 1612.4 L934.0 1615.0 L936.0 1617.5 L938.0 1619.9 L940.0 1622.2 L942.0 1624.4 L944.0 1626.5 L946.0 1628.6 L948.0 1630.5 L950.0 1632.3 L952.0 1634.0 L954.0 1635.6 L956.0 1637.0 L958.0 1638.4 L960.0 1639.7 L962.0 1640.8 L964.0 1641.8 L966.0 1642.7 L968.0 1643.5 L970.0 1644.2 L972.0 1644.8 L974.0 1645.2 L976.0 1645.5 L978.0 1645.7 L980.0 1645.8 L982.0 1645.8 L984.0 1645.6 L986.0 1645.4 L988.0 1645.1 L990.0 1644.7 L992.0 1644.2 L994.0 1643.6 L996.0 1642.9 L998.0 1642.1 L1000.0 1641.2 L1002.0 1640.3 L1004.0 1639.2 L1006.0 1638.1 L1008.0 1636.8 L1010.0 1635.5 L1012.0 1634.1 L1014.0 1632.6 L1016.0 1631.1 L1018.0 1629.4 L1020.0 1627.7 L1022.0 1625.9 L1024.0 1624.0 L1026.0 1622.1 L1028.0 1620.1 L1030.0 1618.0 L1032.0 1615.8 L1034.0 1613.6 L1036.0 1611.3 L1038.0 1609.0 L1040.0 1606.5 L1042.0 1604.1 L1044.0 1601.6 L1046.0 1599.0 L1048.0 1596.4 L1050.0 1593.7 L1052.0 1591.0 L1054.0 1588.3 L1056.0 1585.5 L1058.0 1582.7 L1060.0 1579.9 L1062.0 1577.0 L1064.0 1574.1 L1066.0 1571.1 L1068.0 1568.2 L1070.0 1565.2 L1072.0 1562.3 L1074.0 1559.3 L1076.0 1556.3 L1078.0 1553.3 L1080.0 1550.2 L1082.0 1547.2 L1084.0 1544.2 L1086.0 1541.2 L1088.0 1538.2 L1090.0 1535.3 L1092.0 1532.3 L1094.0 1529.4 L1096.0 1526.4 L1098.0 1523.5 L1100.0 1520.7 L1102.0 1517.8 L1104.0 1515.0 L1106.0 1512.2 L1108.0 1509.5 L1110.0 1506.8 L1112.0 1504.1 L1114.0 1501.5 L1116.0 1499.0 L1118.0 1496.5 L1120.0 1494.0 L1122.0 1491.6 L1124.0 1489.3 L1126.0 1487.0 L1128.0 1484.8 L1130.0 1482.6 L1132.0 1480.5 L1134.0 1478.5 L1136.0 1476.6 L1138.0 1474.7 L1140.0 1472.9 L1142.0 1471.2 L1144.0 1469.6 L1146.0 1468.0 L1148.0 1466.5 L1150.0 1465.1 L1152.0 1463.8 L1154.0 1462.6 L1156.0 1461.5 L1158.0 1460.4 L1160.0 1459.5 L1162.0 1458.6 L1164.0 1457.8 L1166.0 1457.2 L1168.0 1456.6 L1170.0 1456.1 L1172.0 1455.7 L1174.0 1455.4 L1176.0 1455.1 L1178.0 1455.0 L1180.0 1455.0 L1182.0 1455.1 L1184.0 1455.2 L1186.0 1455.4 L1188.0 1455.7 L1190.0 1456.1 L1192.0 1456.5 L1194.0 1457.0 L1196.0 1457.6 L1198.0 1458.3 L1200.0 1459.1 L1202.0 1459.9 L1204.0 1460.8 L1206.0 1461.8 L1208.0 1462.8 L1210.0 1463.9 L1212.0 1465.1 L1214.0 1466.3 L1216.0 1467.6 L1218.0 1469.0 L1220.0 1470.5 L1222.0 1472.0 L1224.0 1473.5 L1226.0 1475.2 L1228.0 1476.8 L1230.0 1478.6 L1232.0 1480.4 L1234.0 1482.2 L1236.0 1484.1 L1238.0 1486.0 L1240.0 1488.0 L1242.0 1490.0 L1244.0 1492.1 L1246.0 1494.2 L1248.0 1496.4 L1250.0 1498.5 L1252.0 1500.7 L1254.0 1503.0 L1256.0 1505.3 L1258.0 1507.6 L1260.0 1509.9 L1262.0 1512.2 L1264.0 1514.6 L1266.0 1517.0 L1268.0 1519.3 L1270.0 1521.8 L1272.0 1524.2 L1274.0 1526.6 L1276.0 1529.0 L1278.0 1531.4 L1280.0 1533.8 L1282.0 1536.2 L1284.0 1538.7 L1286.0 1541.0 L1288.0 1543.4 L1290.0 1545.8 L1292.0 1548.2 L1294.0 1550.5 L1296.0 1552.8 L1298.0 1555.1 L1300.0 1557.4 L1302.0 1559.6 L1304.0 1561.8 L1306.0 1564.0 L1308.0 1566.1 L1310.0 1568.2 L1312.0 1570.3 L1314.0 1572.3 L1316.0 1574.3 L1318.0 1576.2 L1320.0 1578.1 L1322.0 1579.9 L1324.0 1581.7 L1326.0 1583.4 L1328.0 1585.1 L1330.0 1586.7 L1332.0 1588.2 L1334.0 1589.7 L1336.0 1591.1 L1338.0 1592.5 L1340.0 1593.8 L1342.0 1595.0 L1344.0 1596.2 L1346.0 1597.3 L1348.0 1598.3 L1350.0 1599.2 L1352.0 1600.1 L1354.0 1600.9 L1356.0 1601.7 L1358.0 1602.3 L1360.0 1602.9 L1362.0 1603.4 L1364.0 1603.8 L1366.0 1604.2 L1368.0 1604.4 L1370.0 1604.6 L1372.0 1604.8 L1374.0 1604.8 L1376.0 1604.8 L1378.0 1604.7 L1380.0 1604.5 L1382.0 1604.3 L1384.0 1604.1 L1386.0 1603.8 L1388.0 1603.4 L1390.0 1603.0 L1392.0 1602.5 L1394.0 1601.9 L1396.0 1601.3 L1398.0 1600.7 L1400.0 1600.0 L1402.0 1599.2 L1404.0 1598.4 L1406.0 1597.6 L1408.0 1596.6 L1410.0 1595.7 L1412.0 1594.7 L1414.0 1593.6 L1416.0 1592.5 L1418.0 1591.4 L1420.0 1590.2 L1422.0 1588.9 L1424.0 1587.6 L1426.0 1586.3 L1428.0 1585.0 L1430.0 1583.6 L1432.0 1582.1 L1434.0 1580.7 L1436.0 1579.2 L1438.0 1577.6 L1440.0 1576.0 L1442.0 1574.4 L1444.0 1572.8 L1446.0 1571.2 L1448.0 1569.5 L1450.0 1567.8 L1452.0 1566.1 L1454.0 1564.3 L1456.0 1562.6 L1458.0 1560.8 L1460.0 1559.0 L1462.0 1557.2 L1464.0 1555.4 L1466.0 1553.6 L1468.0 1551.8 L1470.0 1549.9 L1472.0 1548.1 L1474.0 1546.3 L1476.0 1544.4 L1478.0 1542.6 L1480.0 1540.8 L1482.0 1538.9 L1484.0 1537.1 L1486.0 1535.3 L1488.0 1533.5 L1490.0 1531.7 L1492.0 1530.0 L1494.0 1528.2 L1496.0 1526.5 L1498.0 1524.8 L1500.0 1523.1 L1502.0 1521.4 L1504.0 1519.8 L1506.0 1518.1 L1508.0 1516.6 L1510.0 1515.0 L1512.0 1513.5 L1514.0 1512.0 L1516.0 1510.5 L1518.0 1509.1 L1520.0 1507.7 L1522.0 1506.3 L1524.0 1505.0 L1526.0 1503.8 L1528.0 1502.5 L1530.0 1501.4 L1532.0 1500.2 L1534.0 1499.1 L1536.0 1498.1 L1538.0 1497.1 L1540.0 1496.1 L1542.0 1495.2 L1544.0 1494.4 L1546.0 1493.6 L1548.0 1492.8 L1550.0 1492.1 L1552.0 1491.5 L1554.0 1490.9 L1556.0 1490.4 L1558.0 1489.9 L1560.0 1489.5 L1562.0 1489.2 L1564.0 1488.9 L1566.0 1488.6 L1568.0 1488.4 L1570.0 1488.3 L1572.0 1488.2 L1574.0 1488.2 L1576.0 1488.2 L1578.0 1488.3 L1580.0 1488.5 L1582.0 1488.7 L1584.0 1488.9 L1586.0 1489.2 L1588.0 1489.5 L1590.0 1489.9 L1592.0 1490.3 L1594.0 1490.8 L1596.0 1491.4 L1598.0 1491.9 L1600.0 1492.6 L1602.0 1493.2 L1604.0 1493.9 L1606.0 1494.7 L1608.0 1495.5 L1610.0 1496.4 L1612.0 1497.2 L1614.0 1498.2 L1616.0 1499.1 L1618.0 1500.2 L1620.0 1501.2 L1622.0 1502.3 L1624.0 1503.4 L1626.0 1504.6 L1628.0 1505.7 L1630.0 1507.0 L1632.0 1508.2 L1634.0 1509.5 L1636.0 1510.8 L1638.0 1512.1 L1640.0 1513.5 L1642.0 1514.9 L1644.0 1516.3 L1646.0 1517.7 L1648.0 1519.1 L1650.0 1520.6 L1652.0 1522.1 L1654.0 1523.5 L1656.0 1525.1 L1658.0 1526.6 L1660.0 1528.1 L1662.0 1529.6 L1664.0 1531.2 L1666.0 1532.7 L1668.0 1534.3 L1670.0 1535.8 L1672.0 1537.4 L1674.0 1538.9 L1676.0 1540.5 L1678.0 1542.0 L1680.0 1543.5 L1682.0 1545.1 L1684.0 1546.6 L1686.0 1548.1 L1688.0 1549.6 L1690.0 1551.0 L1692.0 1552.5 L1694.0 1554.0 L1696.0 1555.4 L1698.0 1556.8 L1700.0 1558.2 L1702.0 1559.5 L1704.0 1560.9 L1706.0 1562.2 L1708.0 1563.4 L1710.0 1564.7 L1712.0 1565.9 L1714.0 1567.1 L1716.0 1568.2 L1718.0 1569.4 L1720.0 1570.4 L1722.0 1571.5 L1724.0 1572.5 L1726.0 1573.5 L1728.0 1574.4 L1730.0 1575.3 L1732.0 1576.1 L1734.0 1577.0 L1736.0 1577.7 L1738.0 1578.4 L1740.0 1579.1 L1742.0 1579.7 L1744.0 1580.3 L1746.0 1580.8 L1748.0 1581.3 L1750.0 1581.8 L1752.0 1582.2 L1754.0 1582.5 L1756.0 1582.8 L1758.0 1583.0 L1760.0 1583.2 L1762.0 1583.4 L1764.0 1583.5 L1766.0 1583.5 L1768.0 1583.5 L1770.0 1583.4 L1772.0 1583.4 L1774.0 1583.2 L1776.0 1583.1 L1778.0 1582.9 L1780.0 1582.7 L1782.0 1582.4 L1784.0 1582.1 L1786.0 1581.8 L1788.0 1581.4 L1790.0 1581.0 L1792.0 1580.6 L1794.0 1580.1 L1796.0 1579.6 L1798.0 1579.1 L1800.0 1578.5 L1802.0 1577.9 L1804.0 1577.3 L1806.0 1576.6 L1808.0 1575.9 L1810.0 1575.2 L1812.0 1574.4 L1814.0 1573.7 L1816.0 1572.9 L1818.0 1572.0 L1820.0 1571.2 L1822.0 1570.3 L1824.0 1569.4 L1826.0 1568.4 L1828.0 1567.5 L1830.0 1566.5 L1832.0 1565.5 L1834.0 1564.5 L1836.0 1563.5 L1838.0 1562.4 L1840.0 1561.4 L1842.0 1560.3 L1844.0 1559.2 L1846.0 1558.1 L1848.0 1557.0 L1850.0 1555.9 L1852.0 1554.7 L1854.0 1553.6 L1856.0 1552.4 L1858.0 1551.3 L1860.0 1550.1 L1862.0 1548.9 L1864.0 1547.8 L1866.0 1546.6 L1868.0 1545.4 L1870.0 1544.3 L1872.0 1543.1 L1874.0 1541.9 L1876.0 1540.8 L1878.0 1539.6 L1880.0 1538.5 L1882.0 1537.3 L1884.0 1536.2 L1886.0 1535.0 L1888.0 1533.9 L1890.0 1532.8 L1892.0 1531.7 L1894.0 1530.7 L1896.0 1529.6 L1898.0 1528.6 L1900.0 1527.5 L1902.0 1526.5 L1904.0 1525.5 L1906.0 1524.6 L1908.0 1523.6 L1910.0 1522.7 L1912.0 1521.8 L1914.0 1520.9 L1916.0 1520.0 L1918.0 1519.2 L1920.0 1518.4 L1922.0 1517.6 L1924.0 1516.9 L1926.0 1516.2 L1928.0 1515.5 L1930.0 1514.8 L1932.0 1514.2 L1934.0 1513.6 L1936.0 1513.0 L1938.0 1512.5 L1940.0 1512.0 L1942.0 1511.5 L1944.0 1511.1 L1946.0 1510.7 L1948.0 1510.3 L1950.0 1510.0 L1952.0 1509.7 L1954.0 1509.4 L1956.0 1509.2 L1958.0 1509.0 L1960.0 1508.8 L1962.0 1508.7 L1964.0 1508.6 L1966.0 1508.6 L1968.0 1508.6 L1970.0 1508.6 L1972.0 1508.7 L1974.0 1508.8 L1976.0 1508.9 L1978.0 1509.0 L1980.0 1509.2 L1982.0 1509.4 L1984.0 1509.6 L1986.0 1509.8 L1988.0 1510.1 L1990.0 1510.4 L1992.0 1510.7 L1994.0 1511.1 L1996.0 1511.5 L1998.0 1511.9 L2000.0 1512.3 L2002.0 1512.7 L2004.0 1513.2 L2006.0 1513.7 L2008.0 1514.2 L2010.0 1514.8 L2012.0 1515.3 L2014.0 1515.9 L2016.0 1516.5 L2018.0 1517.1 L2020.0 1517.8 L2022.0 1518.4 L2024.0 1519.1 L2026.0 1519.8 L2028.0 1520.5 L2030.0 1521.2 L2032.0 1522.0 L2034.0 1522.7 L2036.0 1523.5 L2038.0 1524.3 L2040.0 1525.1 L2042.0 1525.9 L2044.0 1526.7 L2046.0 1527.5 L2048.0 1528.3 L2050.0 1529.1 L2052.0 1530.0 L2054.0 1530.8 L2056.0 1531.6 L2058.0 1532.5 L2060.0 1533.3 L2062.0 1534.2 L2064.0 1535.0 L2066.0 1535.8 L2068.0 1536.7 L2070.0 1537.5 L2072.0 1538.3 L2074.0 1539.2 L2076.0 1540.0 L2078.0 1540.8 L2080.0 1541.6 L2082.0 1542.4 L2084.0 1543.2 L2086.0 1544.0 L2088.0 1544.7 L2090.0 1545.5 L2092.0 1546.2 L2094.0 1546.9 L2096.0 1547.7 L2098.0 1548.3 L2100.0 1549.0 L2102.0 1549.7 L2104.0 1550.3 L2106.0 1551.0 L2108.0 1551.6 L2110.0 1552.1 L2112.0 1552.7 L2114.0 1553.2 L2116.0 1553.8 L2118.0 1554.3 L2120.0 1554.7 L2122.0 1555.2 L2124.0 1555.6 L2126.0 1556.0 L2128.0 1556.4 L2130.0 1556.8 L2132.0 1557.1 L2134.0 1557.4 L2136.0 1557.7 L2138.0 1557.9 L2140.0 1558.1 L2142.0 1558.3 L2144.0 1558.5 L2146.0 1558.6 L2148.0 1558.7 L2150.0 1558.8 L2152.0 1558.9 L2154.0 1558.9 L2156.0 1558.9 L2158.0 1558.9 L2160.0 1558.9 L2162.0 1558.8 L2164.0 1558.8 L2166.0 1558.7 L2168.0 1558.6 L2170.0 1558.5 L2172.0 1558.4 L2174.0 1558.3 L2176.0 1558.2 L2178.0 1558.0 L2180.0 1557.9 L2182.0 1557.7 L2184.0 1557.6 L2186.0 1557.4 L2188.0 1557.2 L2190.0 1557.0 L2192.0 1556.7 L2194.0 1556.5 L2194.7 1556.4" fill="none" stroke="#f00" stroke-width="6.0" stroke-linejoin="round" stroke-linecap="round"/>
</g>
<text transform="translate(263.9 1254.5) scale(0.96 1)" text-anchor="end" class="tk">1.5</text>
<text transform="translate(263.9 1357.2) scale(0.96 1)" text-anchor="end" class="tk">1.0</text>
<text transform="translate(263.9 1459.8) scale(0.96 1)" text-anchor="end" class="tk">0.5</text>
<text transform="translate(263.9 1562.5) scale(0.96 1)" text-anchor="end" class="tk">0.0</text>
<text transform="translate(263.9 1665.1) scale(0.96 1)" text-anchor="end" class="tk">-0.5</text>
<text transform="translate(263.9 1767.8) scale(0.96 1)" text-anchor="end" class="tk">-1.0</text>
<text transform="translate(263.9 1870.4) scale(0.96 1)" text-anchor="end" class="tk">-1.5</text>
<text transform="translate(285.4 1931.0) scale(0.96 1)" text-anchor="middle" class="tk">0</text>
<text transform="translate(604.7 1931.0) scale(0.96 1)" text-anchor="middle" class="tk">5</text>
<text transform="translate(924.0 1931.0) scale(0.96 1)" text-anchor="middle" class="tk">10</text>
<text transform="translate(1243.2 1931.0) scale(0.96 1)" text-anchor="middle" class="tk">15</text>
<text transform="translate(1562.5 1931.0) scale(0.96 1)" text-anchor="middle" class="tk">20</text>
<text transform="translate(1881.8 1931.0) scale(0.96 1)" text-anchor="middle" class="tk">25</text>
<text transform="translate(2201.1 1931.0) scale(0.96 1)" text-anchor="middle" class="tk">30</text>
</g>
<line x1="1479.5" y1="136.3" x2="1632.4" y2="136.3" stroke="#f00" stroke-width="5.3" stroke-linecap="round"/>
<rect x="1544.6" y="209.8" width="22.3" height="22.3" fill="#fff" stroke="#00f" stroke-width="2.0"/><rect x="1553.6" y="219.9" width="3.6" height="2.2" fill="#00f"/>
<line x1="1479.5" y1="304.4" x2="1632.4" y2="304.4" stroke="#000" stroke-width="5.3" stroke-linecap="round"/>
<text transform="translate(1649.3 158.8) scale(1.0076 1)" class="lg">Present</text>
<text transform="translate(1649.3 242.6) scale(1.0065 1)" class="lg">Bai and Teng, 2013</text>
<text transform="translate(1649.3 327.7) scale(0.9950 1)" class="lg">Newman, 1985</text>
<line x1="1462.6" y1="1259.3" x2="1616.4" y2="1259.3" stroke="#f00" stroke-width="5.3" stroke-linecap="round"/>
<rect x="1528.2" y="1333.8" width="22.3" height="22.3" fill="#fff" stroke="#00f" stroke-width="2.0"/><rect x="1537.2" y="1343.9" width="3.6" height="2.2" fill="#00f"/>
<line x1="1462.6" y1="1428.7" x2="1616.4" y2="1428.7" stroke="#000" stroke-width="5.3" stroke-linecap="round"/>
<text transform="translate(1631.7 1282.9) scale(1.0076 1)" class="lg">Present</text>
<text transform="translate(1631.7 1366.8) scale(1.0114 1)" class="lg">Bai and Teng, 2013</text>
<text transform="translate(1631.7 1452.5) scale(0.9970 1)" class="lg">Newman, 1985</text>
<text transform="translate(1131.6 904.5) scale(0.96 1)" class="tk it">t(g/R)</text>
<text transform="translate(1322.6 866.6) scale(0.96 1)" class="it" style="font-size:50px">1/2</text>
<text transform="translate(1145.6 2044.9) scale(0.96 1)" class="tk it">t(g/R)</text>
<text transform="translate(1336.6 2007.0) scale(0.96 1)" class="it" style="font-size:50px">1/2</text>
<text transform="translate(100.7 509.5) rotate(-90) scale(1.280 1)" class="it" style="font-size:96px">ζ</text>
<text transform="translate(60.7 447.0) rotate(-90)"  style="font-size:55px">(1)</text>
<text transform="translate(96.9 384.2) rotate(-90) scale(0.96 1)" style="font-size:78px">/</text>
<text transform="translate(96.9 358.7) rotate(-90) scale(1.04 1)" class="it" style="font-size:78.5px">A</text>
<text transform="translate(101.7 1630.7) rotate(-90) scale(1.290 1)" class="it" style="font-size:80px">ζ</text>
<text transform="translate(61.5 1583.0) rotate(-90)" class="it" style="font-size:49px">(1)</text>
<text transform="translate(97.9 1532.2) rotate(-90) scale(0.96 1)" style="font-size:78px">/</text>
<text transform="translate(97.9 1506.8) rotate(-90) scale(1.04 1)" class="it" style="font-size:78.5px">A</text>
<text x="749.6" y="1045.5" class="cap" textLength="84.4" lengthAdjust="spacingAndGlyphs">(<tspan font-weight="bold">a</tspan>)</text>
<text x="853.5" y="1045.5" class="cap" textLength="196.3" lengthAdjust="spacingAndGlyphs">Initial</text>
<text x="1067.5" y="1045.5" class="cap" textLength="439.0" lengthAdjust="spacingAndGlyphs">displacement</text>
<text x="835.9" y="2186.3" class="cap" textLength="93.9" lengthAdjust="spacingAndGlyphs">(<tspan font-weight="bold">b</tspan>)</text>
<text x="948.9" y="2186.3" class="cap" textLength="194.3" lengthAdjust="spacingAndGlyphs">Initial</text>
<text x="1164.3" y="2186.3" class="cap" textLength="259.8" lengthAdjust="spacingAndGlyphs">velocity</text>
</svg></body></html>
